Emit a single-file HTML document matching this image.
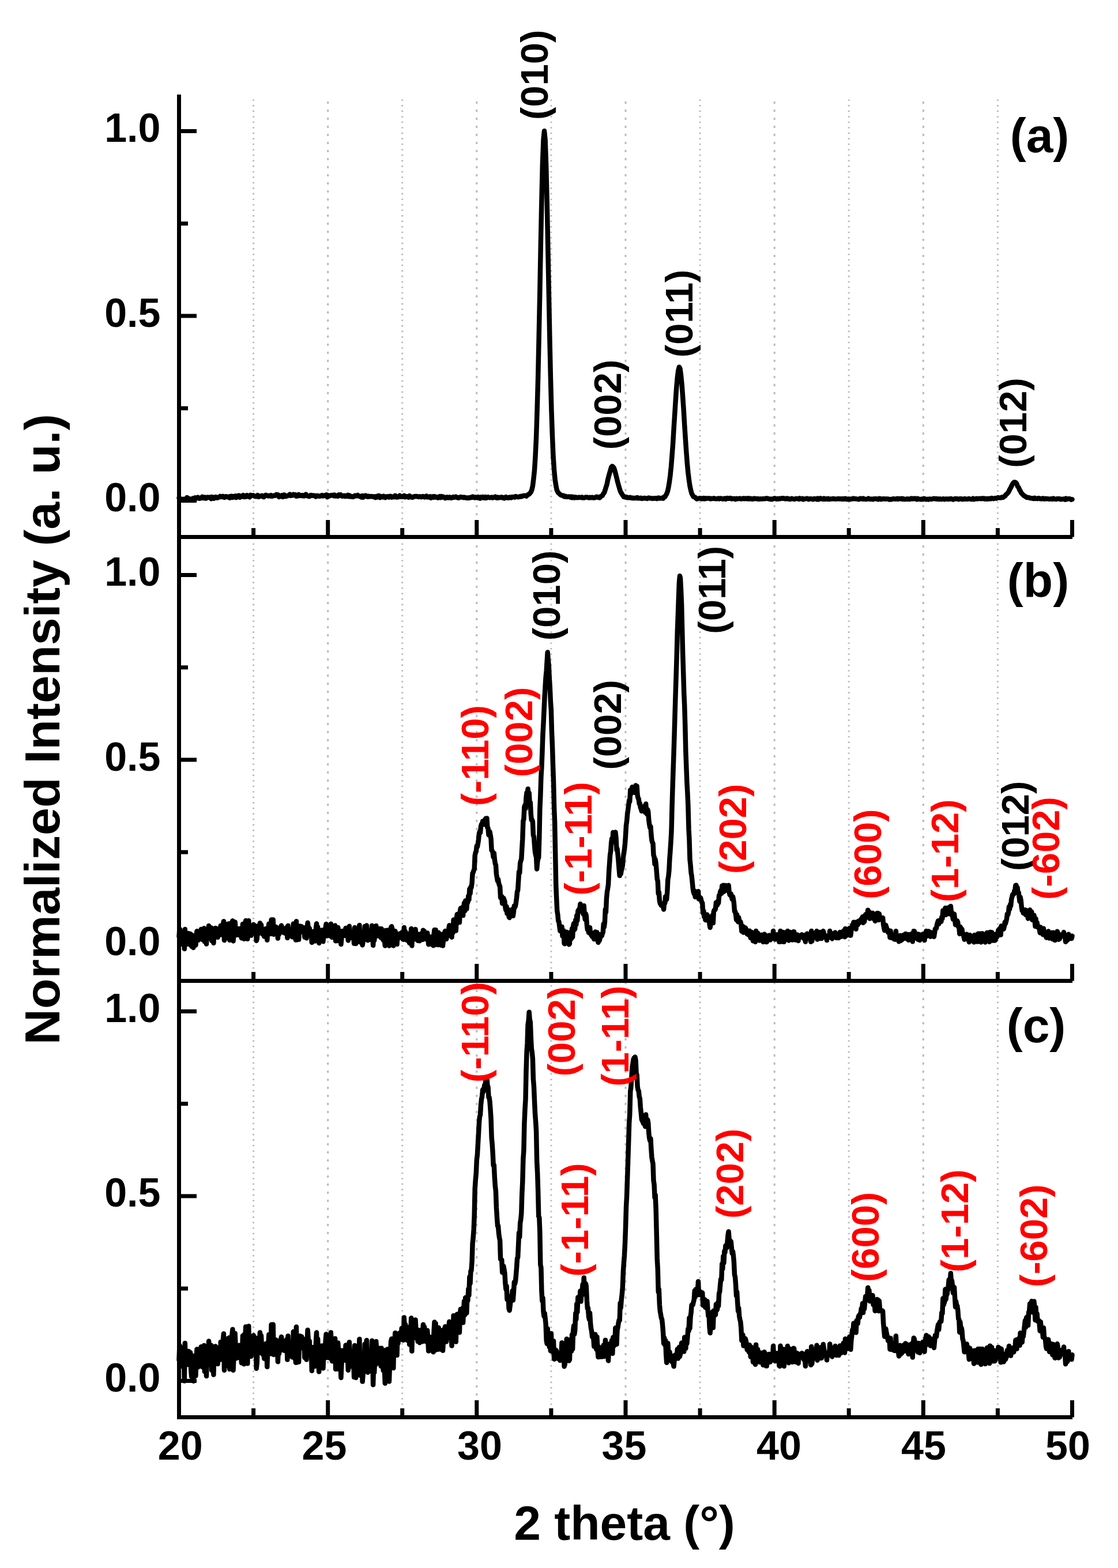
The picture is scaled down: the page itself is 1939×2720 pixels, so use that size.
<!DOCTYPE html><html><head><meta charset="utf-8"><style>html,body{margin:0;padding:0;background:#fff;}svg{display:block;}text{font-family:"Liberation Sans",Arial,sans-serif;font-weight:bold;}</style></head><body>
<svg width="1939" height="2720" viewBox="0 0 1939 2720">
<rect width="1939" height="2720" fill="#fff"/>
<g fill="none" stroke="#bbb" stroke-width="3">
<line x1="439.6" y1="172.5" x2="439.6" y2="928.0" stroke-dasharray="2.6 6.95"/>
<line x1="568.7" y1="176.0" x2="568.7" y2="928.0" stroke-dasharray="4 10"/>
<line x1="697.7" y1="172.5" x2="697.7" y2="928.0" stroke-dasharray="2.6 6.95"/>
<line x1="826.8" y1="176.0" x2="826.8" y2="928.0" stroke-dasharray="4 10"/>
<line x1="955.9" y1="172.5" x2="955.9" y2="928.0" stroke-dasharray="2.6 6.95"/>
<line x1="1085.0" y1="176.0" x2="1085.0" y2="928.0" stroke-dasharray="4 10"/>
<line x1="1214.1" y1="172.5" x2="1214.1" y2="928.0" stroke-dasharray="2.6 6.95"/>
<line x1="1343.2" y1="176.0" x2="1343.2" y2="928.0" stroke-dasharray="4 10"/>
<line x1="1472.2" y1="172.5" x2="1472.2" y2="928.0" stroke-dasharray="2.6 6.95"/>
<line x1="1601.3" y1="176.0" x2="1601.3" y2="928.0" stroke-dasharray="4 10"/>
<line x1="1730.4" y1="172.5" x2="1730.4" y2="928.0" stroke-dasharray="2.6 6.95"/>
<line x1="439.6" y1="942.5" x2="439.6" y2="1698.0" stroke-dasharray="2.6 6.95"/>
<line x1="568.7" y1="946.0" x2="568.7" y2="1698.0" stroke-dasharray="4 10"/>
<line x1="697.7" y1="942.5" x2="697.7" y2="1698.0" stroke-dasharray="2.6 6.95"/>
<line x1="826.8" y1="946.0" x2="826.8" y2="1698.0" stroke-dasharray="4 10"/>
<line x1="955.9" y1="942.5" x2="955.9" y2="1698.0" stroke-dasharray="2.6 6.95"/>
<line x1="1085.0" y1="946.0" x2="1085.0" y2="1698.0" stroke-dasharray="4 10"/>
<line x1="1214.1" y1="942.5" x2="1214.1" y2="1698.0" stroke-dasharray="2.6 6.95"/>
<line x1="1343.2" y1="946.0" x2="1343.2" y2="1698.0" stroke-dasharray="4 10"/>
<line x1="1472.2" y1="942.5" x2="1472.2" y2="1698.0" stroke-dasharray="2.6 6.95"/>
<line x1="1601.3" y1="946.0" x2="1601.3" y2="1698.0" stroke-dasharray="4 10"/>
<line x1="1730.4" y1="942.5" x2="1730.4" y2="1698.0" stroke-dasharray="2.6 6.95"/>
<line x1="439.6" y1="1699.4" x2="439.6" y2="2455.0" stroke-dasharray="2.6 6.95"/>
<line x1="568.7" y1="1702.9" x2="568.7" y2="2455.0" stroke-dasharray="4 10"/>
<line x1="697.7" y1="1699.4" x2="697.7" y2="2455.0" stroke-dasharray="2.6 6.95"/>
<line x1="826.8" y1="1702.9" x2="826.8" y2="2455.0" stroke-dasharray="4 10"/>
<line x1="955.9" y1="1699.4" x2="955.9" y2="2455.0" stroke-dasharray="2.6 6.95"/>
<line x1="1085.0" y1="1702.9" x2="1085.0" y2="2455.0" stroke-dasharray="4 10"/>
<line x1="1214.1" y1="1699.4" x2="1214.1" y2="2455.0" stroke-dasharray="2.6 6.95"/>
<line x1="1343.2" y1="1702.9" x2="1343.2" y2="2455.0" stroke-dasharray="4 10"/>
<line x1="1472.2" y1="1699.4" x2="1472.2" y2="2455.0" stroke-dasharray="2.6 6.95"/>
<line x1="1601.3" y1="1702.9" x2="1601.3" y2="2455.0" stroke-dasharray="4 10"/>
<line x1="1730.4" y1="1699.4" x2="1730.4" y2="2455.0" stroke-dasharray="2.6 6.95"/>
</g>
<g fill="none" stroke="#000" stroke-width="8.5" stroke-linejoin="round" stroke-linecap="round">
<path d="M310.5,863.7 L312.0,868.0 L313.6,865.3 L315.1,866.3 L316.7,866.1 L318.2,865.8 L319.8,867.6 L321.3,865.6 L322.9,866.2 L324.4,863.1 L326.0,864.9 L327.5,865.5 L329.1,865.3 L330.6,865.6 L332.2,866.0 L333.7,865.2 L335.3,864.2 L336.8,864.9 L338.4,863.5 L339.9,864.7 L341.5,864.4 L343.0,862.6 L344.6,863.6 L346.1,864.7 L347.7,864.3 L349.2,863.4 L350.8,861.8 L352.3,864.1 L353.9,864.0 L355.4,862.6 L357.0,864.6 L358.5,863.9 L360.1,862.5 L361.6,862.8 L363.2,863.2 L364.7,862.5 L366.3,865.3 L367.8,862.0 L369.4,864.0 L370.9,864.7 L372.5,862.5 L374.0,862.0 L375.6,863.2 L377.1,863.8 L378.7,862.5 L380.2,862.5 L381.8,860.9 L383.3,861.5 L384.9,862.0 L386.4,860.9 L387.9,862.3 L389.5,863.0 L391.0,861.3 L392.6,861.2 L394.1,862.0 L395.7,862.5 L397.2,861.4 L398.8,863.7 L400.3,860.7 L401.9,860.8 L403.4,863.1 L405.0,861.2 L406.5,862.2 L408.1,860.3 L409.6,863.2 L411.2,861.9 L412.7,860.1 L414.3,859.5 L415.8,862.9 L417.4,861.3 L418.9,860.4 L420.5,861.4 L422.0,859.0 L423.6,862.0 L425.1,860.3 L426.7,861.8 L428.2,859.1 L429.8,860.6 L431.3,861.0 L432.9,862.4 L434.4,858.7 L436.0,859.7 L437.5,859.7 L439.1,859.2 L440.6,860.1 L442.2,861.1 L443.7,861.3 L445.3,861.3 L446.8,858.9 L448.4,861.9 L449.9,861.0 L451.5,860.7 L453.0,860.1 L454.6,859.7 L456.1,861.6 L457.7,862.1 L459.2,860.2 L460.8,858.9 L462.3,859.4 L463.9,859.9 L465.4,860.5 L466.9,859.8 L468.5,860.4 L470.0,859.2 L471.6,860.9 L473.1,859.9 L474.7,860.1 L476.2,859.4 L477.8,859.7 L479.3,857.8 L480.9,858.3 L482.4,858.3 L484.0,862.1 L485.5,860.3 L487.1,860.5 L488.6,859.3 L490.2,862.0 L491.7,858.6 L493.3,858.6 L494.8,861.2 L496.4,860.8 L497.9,860.6 L499.5,859.7 L501.0,859.0 L502.6,857.5 L504.1,859.9 L505.7,858.8 L507.2,859.5 L508.8,857.7 L510.3,858.8 L511.9,858.1 L513.4,860.7 L515.0,859.7 L516.5,860.4 L518.1,857.9 L519.6,858.8 L521.2,859.9 L522.7,860.1 L524.3,859.1 L525.8,860.4 L527.4,860.6 L528.9,859.1 L530.5,857.5 L532.0,859.9 L533.6,860.3 L535.1,861.0 L536.7,861.2 L538.2,859.2 L539.8,858.9 L541.3,859.8 L542.8,859.5 L544.4,859.7 L545.9,859.7 L547.5,861.5 L549.0,860.4 L550.6,859.8 L552.1,860.8 L553.7,860.5 L555.2,860.8 L556.8,860.3 L558.3,859.1 L559.9,860.5 L561.4,860.2 L563.0,859.2 L564.5,859.4 L566.1,858.3 L567.6,862.3 L569.2,859.2 L570.7,860.7 L572.3,860.0 L573.8,859.3 L575.4,859.1 L576.9,859.1 L578.5,860.1 L580.0,858.5 L581.6,860.6 L583.1,860.5 L584.7,859.5 L586.2,860.9 L587.8,858.2 L589.3,859.3 L590.9,858.3 L592.4,860.4 L594.0,860.8 L595.5,860.3 L597.1,859.7 L598.6,861.1 L600.2,860.1 L601.7,860.6 L603.3,858.8 L604.8,861.3 L606.4,859.5 L607.9,861.3 L609.5,861.7 L611.0,861.4 L612.6,861.9 L614.1,860.5 L615.7,859.6 L617.2,860.5 L618.7,860.1 L620.3,859.0 L621.8,860.5 L623.4,860.6 L624.9,861.1 L626.5,862.6 L628.0,860.0 L629.6,862.8 L631.1,860.2 L632.7,860.9 L634.2,859.7 L635.8,861.0 L637.3,861.8 L638.9,860.6 L640.4,861.6 L642.0,861.2 L643.5,861.0 L645.1,861.2 L646.6,861.3 L648.2,862.0 L649.7,861.3 L651.3,863.3 L652.8,861.3 L654.4,862.5 L655.9,860.0 L657.5,859.9 L659.0,863.3 L660.6,861.1 L662.1,861.4 L663.7,862.4 L665.2,860.7 L666.8,861.8 L668.3,863.2 L669.9,861.6 L671.4,861.5 L673.0,861.3 L674.5,862.7 L676.1,860.8 L677.6,860.7 L679.2,862.7 L680.7,862.2 L682.3,861.6 L683.8,862.1 L685.4,859.7 L686.9,861.3 L688.5,862.6 L690.0,862.4 L691.6,861.7 L693.1,859.6 L694.6,861.8 L696.2,861.5 L697.7,861.2 L699.3,861.7 L700.8,859.8 L702.4,862.3 L703.9,861.0 L705.5,861.6 L707.0,861.2 L708.6,862.9 L710.1,860.1 L711.7,862.0 L713.2,861.8 L714.8,862.8 L716.3,862.6 L717.9,861.4 L719.4,861.0 L721.0,861.3 L722.5,860.9 L724.1,861.3 L725.6,862.0 L727.2,861.3 L728.7,861.5 L730.3,862.2 L731.8,861.4 L733.4,861.0 L734.9,861.9 L736.5,862.4 L738.0,861.5 L739.6,860.5 L741.1,862.4 L742.7,862.3 L744.2,862.3 L745.8,861.2 L747.3,863.8 L748.9,862.0 L750.4,861.3 L752.0,863.0 L753.5,861.1 L755.1,861.9 L756.6,862.8 L758.2,862.2 L759.7,863.6 L761.3,862.9 L762.8,861.0 L764.4,863.2 L765.9,861.0 L767.5,862.5 L769.0,861.7 L770.6,862.5 L772.1,864.1 L773.6,863.0 L775.2,862.4 L776.7,863.5 L778.3,863.6 L779.8,862.3 L781.4,863.1 L782.9,863.9 L784.5,863.2 L786.0,862.0 L787.6,863.0 L789.1,862.0 L790.7,861.6 L792.2,862.7 L793.8,863.6 L795.3,863.7 L796.9,862.8 L798.4,862.1 L800.0,862.6 L801.5,862.4 L803.1,863.2 L804.6,862.6 L806.2,863.2 L807.7,863.1 L809.3,863.8 L810.8,864.1 L812.4,863.3 L813.9,863.7 L815.5,863.6 L817.0,862.5 L818.6,863.0 L820.1,861.5 L821.7,862.3 L823.2,863.5 L824.8,862.4 L826.3,862.8 L827.9,863.5 L829.4,862.2 L831.0,863.6 L832.5,864.5 L834.1,862.5 L835.6,863.5 L837.2,862.0 L838.7,863.6 L840.3,863.9 L841.8,862.0 L843.4,863.9 L844.9,863.0 L846.5,862.1 L848.0,863.0 L849.5,863.2 L851.1,863.1 L852.6,862.5 L854.2,863.7 L855.7,862.7 L857.3,862.7 L858.8,861.7 L860.4,863.4 L861.9,863.8 L863.5,862.6 L865.0,863.4 L866.6,862.9 L868.1,863.0 L869.7,862.2 L871.2,863.5 L872.8,863.1 L874.3,864.4 L875.9,863.6 L877.4,861.9 L879.0,863.4 L880.5,863.4 L882.1,863.7 L883.6,862.4 L885.2,862.6 L886.7,863.5 L888.3,862.1 L889.8,862.3 L891.4,861.9 L892.9,862.7 L894.5,861.0 L896.0,861.8 L897.6,862.0 L899.1,862.2 L900.7,861.8 L902.2,860.9 L903.8,861.5 L905.3,860.4 L906.9,860.5 L908.4,859.7 L910.0,859.8 L911.5,860.0 L913.1,860.8 L914.6,858.8 L916.2,857.8 L917.7,857.2 L919.3,855.4 L920.8,853.6 L922.4,849.4 L923.9,843.1 L925.4,831.0 L927.0,815.5 L928.5,791.7 L930.1,758.0 L931.6,711.6 L933.2,652.7 L934.7,583.7 L936.3,506.4 L937.8,424.9 L939.4,348.5 L940.9,284.9 L942.5,242.4 L944.0,227.3 L945.6,242.4 L947.1,284.9 L948.7,349.1 L950.2,424.9 L951.8,506.1 L953.3,583.1 L954.9,654.4 L956.4,711.1 L958.0,756.7 L959.5,791.6 L961.1,815.4 L962.6,831.5 L964.2,842.2 L965.7,849.6 L967.3,853.4 L968.8,855.2 L970.4,856.6 L971.9,858.3 L973.5,859.1 L975.0,859.5 L976.6,859.4 L978.1,861.1 L979.7,861.6 L981.2,860.9 L982.8,861.9 L984.3,861.8 L985.9,861.6 L987.4,861.5 L989.0,862.7 L990.5,861.6 L992.1,863.4 L993.6,862.0 L995.2,863.4 L996.7,863.4 L998.3,862.3 L999.8,863.0 L1001.3,863.3 L1002.9,863.1 L1004.4,862.6 L1006.0,863.0 L1007.5,863.0 L1009.1,862.4 L1010.6,863.6 L1012.2,863.4 L1013.7,863.5 L1015.3,862.5 L1016.8,862.6 L1018.4,862.5 L1019.9,863.3 L1021.5,863.4 L1023.0,862.7 L1024.6,863.5 L1026.1,862.8 L1027.7,862.8 L1029.2,863.7 L1030.8,863.2 L1032.3,863.2 L1033.9,862.0 L1035.4,861.8 L1037.0,862.9 L1038.5,862.6 L1040.1,863.4 L1041.6,861.4 L1043.2,860.6 L1044.7,859.8 L1046.3,856.6 L1047.8,855.1 L1049.4,850.5 L1050.9,845.5 L1052.5,840.7 L1054.0,833.1 L1055.6,826.4 L1057.1,821.3 L1058.7,815.7 L1060.2,810.4 L1061.8,808.8 L1063.3,809.9 L1064.9,812.1 L1066.4,816.7 L1068.0,822.8 L1069.5,828.8 L1071.1,835.7 L1072.6,841.1 L1074.2,846.7 L1075.7,851.6 L1077.3,854.8 L1078.8,857.3 L1080.3,859.6 L1081.9,862.0 L1083.4,861.6 L1085.0,862.7 L1086.5,862.1 L1088.1,863.3 L1089.6,863.2 L1091.2,863.4 L1092.7,862.7 L1094.3,863.7 L1095.8,864.0 L1097.4,863.7 L1098.9,864.2 L1100.5,863.9 L1102.0,864.0 L1103.6,863.9 L1105.1,863.0 L1106.7,864.4 L1108.2,864.1 L1109.8,864.3 L1111.3,863.8 L1112.9,864.9 L1114.4,864.7 L1116.0,864.3 L1117.5,864.0 L1119.1,864.3 L1120.6,864.6 L1122.2,864.9 L1123.7,864.1 L1125.3,863.6 L1126.8,864.2 L1128.4,864.3 L1129.9,864.2 L1131.5,865.0 L1133.0,864.6 L1134.6,864.6 L1136.1,864.3 L1137.7,864.5 L1139.2,865.2 L1140.8,863.9 L1142.3,863.5 L1143.9,864.6 L1145.4,864.2 L1147.0,864.2 L1148.5,863.6 L1150.1,864.5 L1151.6,862.1 L1153.2,862.1 L1154.7,859.2 L1156.2,856.8 L1157.8,852.5 L1159.3,845.9 L1160.9,836.3 L1162.4,825.2 L1164.0,809.6 L1165.5,790.9 L1167.1,769.7 L1168.6,744.1 L1170.2,719.3 L1171.7,694.9 L1173.3,672.1 L1174.8,655.0 L1176.4,642.5 L1177.9,636.7 L1179.5,639.5 L1181.0,650.7 L1182.6,666.9 L1184.1,687.6 L1185.7,710.8 L1187.2,736.7 L1188.8,761.2 L1190.3,783.5 L1191.9,804.1 L1193.4,820.0 L1195.0,832.8 L1196.5,843.0 L1198.1,850.4 L1199.6,856.0 L1201.2,858.9 L1202.7,861.7 L1204.3,862.2 L1205.8,862.7 L1207.4,864.6 L1208.9,865.6 L1210.5,864.9 L1212.0,864.6 L1213.6,864.2 L1215.1,864.3 L1216.7,865.3 L1218.2,865.3 L1219.8,864.2 L1221.3,865.4 L1222.9,864.3 L1224.4,865.0 L1226.0,864.5 L1227.5,864.5 L1229.1,864.5 L1230.6,864.5 L1232.1,865.4 L1233.7,864.8 L1235.2,864.9 L1236.8,864.8 L1238.3,864.3 L1239.9,865.1 L1241.4,865.3 L1243.0,865.3 L1244.5,865.1 L1246.1,864.6 L1247.6,865.4 L1249.2,864.4 L1250.7,864.8 L1252.3,865.1 L1253.8,865.7 L1255.4,864.9 L1256.9,864.6 L1258.5,865.9 L1260.0,864.4 L1261.6,864.1 L1263.1,864.8 L1264.7,864.8 L1266.2,864.0 L1267.8,864.4 L1269.3,865.5 L1270.9,865.0 L1272.4,865.1 L1274.0,865.1 L1275.5,866.1 L1277.1,864.7 L1278.6,865.4 L1280.2,865.0 L1281.7,865.1 L1283.3,864.6 L1284.8,865.2 L1286.4,865.5 L1287.9,864.8 L1289.5,864.4 L1291.0,865.3 L1292.6,864.4 L1294.1,865.0 L1295.7,865.4 L1297.2,864.3 L1298.8,865.5 L1300.3,864.6 L1301.9,865.4 L1303.4,864.9 L1305.0,865.8 L1306.5,865.6 L1308.0,864.6 L1309.6,865.1 L1311.1,865.1 L1312.7,865.4 L1314.2,864.9 L1315.8,865.9 L1317.3,865.7 L1318.9,865.3 L1320.4,865.6 L1322.0,865.5 L1323.5,865.2 L1325.1,865.3 L1326.6,865.3 L1328.2,864.4 L1329.7,864.7 L1331.3,864.6 L1332.8,865.2 L1334.4,865.5 L1335.9,866.0 L1337.5,865.4 L1339.0,866.2 L1340.6,865.5 L1342.1,864.9 L1343.7,864.4 L1345.2,864.8 L1346.8,865.7 L1348.3,865.0 L1349.9,865.7 L1351.4,864.8 L1353.0,865.3 L1354.5,864.8 L1356.1,864.3 L1357.6,864.8 L1359.2,864.3 L1360.7,865.2 L1362.3,865.4 L1363.8,864.6 L1365.4,864.4 L1366.9,865.6 L1368.5,865.2 L1370.0,866.0 L1371.6,865.4 L1373.1,864.8 L1374.7,865.3 L1376.2,865.6 L1377.8,866.0 L1379.3,865.1 L1380.9,864.9 L1382.4,865.0 L1384.0,865.2 L1385.5,865.9 L1387.0,864.4 L1388.6,865.3 L1390.1,865.4 L1391.7,864.9 L1393.2,866.3 L1394.8,865.4 L1396.3,865.4 L1397.9,865.1 L1399.4,864.7 L1401.0,865.1 L1402.5,866.2 L1404.1,865.5 L1405.6,865.2 L1407.2,865.3 L1408.7,866.0 L1410.3,866.2 L1411.8,865.1 L1413.4,865.2 L1414.9,865.4 L1416.5,866.2 L1418.0,864.5 L1419.6,866.3 L1421.1,865.5 L1422.7,864.4 L1424.2,865.4 L1425.8,865.2 L1427.3,865.9 L1428.9,864.7 L1430.4,866.0 L1432.0,865.2 L1433.5,865.3 L1435.1,865.9 L1436.6,864.9 L1438.2,866.1 L1439.7,865.7 L1441.3,865.4 L1442.8,865.6 L1444.4,865.2 L1445.9,864.9 L1447.5,865.5 L1449.0,865.7 L1450.6,865.6 L1452.1,865.6 L1453.7,865.0 L1455.2,865.5 L1456.8,865.2 L1458.3,865.4 L1459.9,865.8 L1461.4,865.0 L1462.9,865.9 L1464.5,865.4 L1466.0,864.7 L1467.6,865.9 L1469.1,865.4 L1470.7,866.2 L1472.2,865.7 L1473.8,866.2 L1475.3,865.6 L1476.9,865.7 L1478.4,865.4 L1480.0,864.6 L1481.5,865.3 L1483.1,865.1 L1484.6,865.5 L1486.2,865.6 L1487.7,865.8 L1489.3,866.3 L1490.8,865.4 L1492.4,864.6 L1493.9,865.2 L1495.5,865.7 L1497.0,864.6 L1498.6,865.7 L1500.1,865.8 L1501.7,866.0 L1503.2,865.9 L1504.8,865.6 L1506.3,864.5 L1507.9,865.6 L1509.4,866.0 L1511.0,865.8 L1512.5,865.6 L1514.1,866.3 L1515.6,865.4 L1517.2,865.1 L1518.7,865.3 L1520.3,865.2 L1521.8,866.1 L1523.4,866.3 L1524.9,864.8 L1526.5,864.9 L1528.0,866.2 L1529.6,865.4 L1531.1,865.5 L1532.7,865.2 L1534.2,865.4 L1535.8,865.7 L1537.3,865.4 L1538.8,865.4 L1540.4,865.5 L1541.9,866.4 L1543.5,866.5 L1545.0,865.9 L1546.6,866.3 L1548.1,865.4 L1549.7,865.2 L1551.2,865.4 L1552.8,865.7 L1554.3,865.5 L1555.9,864.9 L1557.4,865.9 L1559.0,865.1 L1560.5,865.2 L1562.1,865.4 L1563.6,864.8 L1565.2,865.9 L1566.7,865.1 L1568.3,866.0 L1569.8,865.9 L1571.4,866.0 L1572.9,865.3 L1574.5,866.0 L1576.0,865.5 L1577.6,866.1 L1579.1,865.0 L1580.7,864.6 L1582.2,865.4 L1583.8,864.7 L1585.3,865.3 L1586.9,864.6 L1588.4,865.5 L1590.0,866.3 L1591.5,864.8 L1593.1,865.6 L1594.6,866.0 L1596.2,865.9 L1597.7,866.3 L1599.3,865.6 L1600.8,866.1 L1602.4,864.8 L1603.9,865.2 L1605.5,866.3 L1607.0,866.3 L1608.6,865.8 L1610.1,866.5 L1611.7,865.6 L1613.2,865.6 L1614.7,865.9 L1616.3,865.8 L1617.8,865.3 L1619.4,864.9 L1620.9,864.8 L1622.5,865.5 L1624.0,865.1 L1625.6,865.9 L1627.1,865.3 L1628.7,866.0 L1630.2,865.2 L1631.8,866.1 L1633.3,866.0 L1634.9,865.5 L1636.4,865.3 L1638.0,866.2 L1639.5,865.8 L1641.1,865.5 L1642.6,865.4 L1644.2,865.9 L1645.7,865.5 L1647.3,865.7 L1648.8,864.9 L1650.4,865.3 L1651.9,866.2 L1653.5,866.5 L1655.0,865.5 L1656.6,865.0 L1658.1,865.4 L1659.7,865.1 L1661.2,865.7 L1662.8,866.2 L1664.3,865.2 L1665.9,865.5 L1667.4,865.2 L1669.0,866.2 L1670.5,865.4 L1672.1,865.8 L1673.6,865.1 L1675.2,865.8 L1676.7,865.8 L1678.3,865.7 L1679.8,864.9 L1681.4,865.4 L1682.9,865.8 L1684.5,865.9 L1686.0,865.9 L1687.6,864.7 L1689.1,866.3 L1690.7,865.8 L1692.2,865.1 L1693.7,864.8 L1695.3,865.4 L1696.8,865.0 L1698.4,865.0 L1699.9,864.8 L1701.5,865.3 L1703.0,864.5 L1704.6,865.1 L1706.1,864.5 L1707.7,865.7 L1709.2,864.7 L1710.8,865.7 L1712.3,865.8 L1713.9,864.8 L1715.4,865.4 L1717.0,864.7 L1718.5,865.4 L1720.1,864.0 L1721.6,864.7 L1723.2,865.2 L1724.7,864.5 L1726.3,864.0 L1727.8,864.7 L1729.4,863.9 L1730.9,863.1 L1732.5,863.4 L1734.0,863.6 L1735.6,863.5 L1737.1,862.6 L1738.7,863.1 L1740.2,862.7 L1741.8,861.2 L1743.3,860.3 L1744.9,857.7 L1746.4,856.7 L1748.0,855.1 L1749.5,852.8 L1751.1,849.2 L1752.6,846.7 L1754.2,843.5 L1755.7,840.3 L1757.3,837.9 L1758.8,836.5 L1760.4,836.5 L1761.9,837.3 L1763.5,839.5 L1765.0,844.0 L1766.6,845.5 L1768.1,849.4 L1769.6,851.7 L1771.2,855.0 L1772.7,856.6 L1774.3,858.4 L1775.8,859.8 L1777.4,860.6 L1778.9,861.5 L1780.5,862.9 L1782.0,863.0 L1783.6,863.0 L1785.1,863.3 L1786.7,864.0 L1788.2,864.2 L1789.8,864.3 L1791.3,864.9 L1792.9,865.1 L1794.4,863.9 L1796.0,864.9 L1797.5,864.7 L1799.1,865.2 L1800.6,864.3 L1802.2,864.2 L1803.7,865.2 L1805.3,864.9 L1806.8,865.5 L1808.4,864.4 L1809.9,864.8 L1811.5,865.7 L1813.0,864.7 L1814.6,865.2 L1816.1,865.2 L1817.7,865.2 L1819.2,865.7 L1820.8,865.7 L1822.3,865.2 L1823.9,865.5 L1825.4,865.9 L1827.0,864.6 L1828.5,865.6 L1830.1,865.8 L1831.6,865.9 L1833.2,865.3 L1834.7,865.1 L1836.3,865.5 L1837.8,865.2 L1839.4,866.3 L1840.9,865.8 L1842.5,865.9 L1844.0,865.7 L1845.5,865.4 L1847.1,866.6 L1848.6,864.8 L1850.2,866.1 L1851.7,865.5 L1853.3,865.3 L1854.8,865.3 L1856.4,865.6 L1857.9,866.7 L1859.5,866.2"/>
<path d="M310.5,1624.5 L311.5,1611.5 L312.6,1613.3 L313.6,1631.2 L314.6,1629.5 L315.7,1632.2 L316.7,1621.5 L317.7,1628.1 L318.8,1620.2 L319.8,1646.0 L320.8,1612.0 L321.9,1628.7 L322.9,1620.8 L323.9,1629.0 L325.0,1631.4 L326.0,1622.8 L327.0,1619.0 L328.1,1629.2 L329.1,1628.6 L330.1,1619.9 L331.2,1635.4 L332.2,1641.7 L333.2,1622.3 L334.3,1632.8 L335.3,1643.9 L336.3,1633.7 L337.3,1630.0 L338.4,1637.0 L339.4,1639.8 L340.4,1624.2 L341.5,1615.3 L342.5,1626.3 L343.5,1631.2 L344.6,1619.6 L345.6,1616.0 L346.6,1625.9 L347.7,1617.2 L348.7,1612.0 L349.7,1624.2 L350.8,1630.0 L351.8,1618.2 L352.8,1618.9 L353.9,1610.2 L354.9,1633.7 L355.9,1627.3 L357.0,1628.9 L358.0,1637.6 L359.0,1618.9 L360.1,1614.7 L361.1,1627.2 L362.1,1605.9 L363.2,1611.3 L364.2,1613.1 L365.2,1615.2 L366.3,1609.5 L367.3,1632.1 L368.3,1612.6 L369.4,1612.5 L370.4,1635.9 L371.4,1614.7 L372.5,1620.5 L373.5,1610.1 L374.5,1622.0 L375.6,1617.7 L376.6,1614.0 L377.6,1625.9 L378.7,1611.1 L379.7,1617.9 L380.7,1611.9 L381.8,1621.8 L382.8,1605.8 L383.8,1610.4 L384.9,1618.0 L385.9,1609.8 L386.9,1603.5 L387.9,1598.2 L389.0,1631.2 L390.0,1606.9 L391.0,1610.9 L392.1,1616.4 L393.1,1625.3 L394.1,1602.9 L395.2,1627.6 L396.2,1609.6 L397.2,1602.3 L398.3,1630.8 L399.3,1618.0 L400.3,1627.8 L401.4,1612.6 L402.4,1600.1 L403.4,1597.3 L404.5,1632.4 L405.5,1620.5 L406.5,1608.0 L407.6,1599.4 L408.6,1610.7 L409.6,1622.1 L410.7,1611.9 L411.7,1615.0 L412.7,1616.8 L413.8,1622.0 L414.8,1611.0 L415.8,1611.8 L416.9,1615.7 L417.9,1616.9 L418.9,1627.3 L420.0,1619.5 L421.0,1602.9 L422.0,1616.6 L423.1,1628.8 L424.1,1601.7 L425.1,1609.5 L426.2,1597.1 L427.2,1614.1 L428.2,1619.2 L429.3,1628.8 L430.3,1601.7 L431.3,1597.1 L432.4,1622.6 L433.4,1620.9 L434.4,1608.8 L435.5,1622.7 L436.5,1617.2 L437.5,1618.0 L438.5,1612.7 L439.6,1603.8 L440.6,1614.3 L441.6,1605.5 L442.7,1618.5 L443.7,1611.2 L444.7,1631.9 L445.8,1628.4 L446.8,1606.5 L447.8,1619.9 L448.9,1608.5 L449.9,1608.8 L450.9,1601.2 L452.0,1606.1 L453.0,1604.0 L454.0,1614.9 L455.1,1620.5 L456.1,1620.8 L457.1,1618.4 L458.2,1624.5 L459.2,1618.8 L460.2,1614.3 L461.3,1610.9 L462.3,1616.6 L463.3,1630.7 L464.4,1613.9 L465.4,1611.0 L466.4,1602.6 L467.5,1607.5 L468.5,1619.3 L469.5,1620.0 L470.6,1595.6 L471.6,1605.7 L472.6,1595.6 L473.7,1595.6 L474.7,1620.9 L475.7,1609.3 L476.8,1608.6 L477.8,1607.6 L478.8,1607.8 L479.9,1611.2 L480.9,1611.5 L481.9,1627.7 L483.0,1614.8 L484.0,1620.5 L485.0,1612.1 L486.1,1617.9 L487.1,1607.5 L488.1,1605.6 L489.2,1610.6 L490.2,1610.6 L491.2,1612.8 L492.2,1618.1 L493.3,1615.4 L494.3,1618.7 L495.3,1610.3 L496.4,1613.9 L497.4,1608.6 L498.4,1627.1 L499.5,1605.8 L500.5,1621.8 L501.5,1621.6 L502.6,1616.5 L503.6,1620.1 L504.6,1612.0 L505.7,1620.4 L506.7,1625.3 L507.7,1623.2 L508.8,1602.5 L509.8,1614.8 L510.8,1626.5 L511.9,1615.3 L512.9,1630.5 L513.9,1598.3 L515.0,1630.3 L516.0,1611.1 L517.0,1610.5 L518.1,1629.8 L519.1,1613.0 L520.1,1606.4 L521.2,1611.6 L522.2,1613.6 L523.2,1607.1 L524.3,1614.8 L525.3,1613.1 L526.3,1617.7 L527.4,1610.5 L528.4,1625.7 L529.4,1609.1 L530.5,1621.6 L531.5,1627.4 L532.5,1613.4 L533.6,1600.8 L534.6,1607.9 L535.6,1622.2 L536.7,1610.6 L537.7,1621.7 L538.7,1618.7 L539.8,1616.7 L540.8,1634.9 L541.8,1615.9 L542.8,1627.7 L543.9,1624.6 L544.9,1632.1 L545.9,1632.6 L547.0,1627.2 L548.0,1610.3 L549.0,1602.3 L550.1,1618.6 L551.1,1608.0 L552.1,1621.1 L553.2,1635.9 L554.2,1617.3 L555.2,1614.5 L556.3,1623.0 L557.3,1616.0 L558.3,1613.5 L559.4,1627.4 L560.4,1633.3 L561.4,1621.3 L562.5,1621.3 L563.5,1622.7 L564.5,1609.9 L565.6,1602.9 L566.6,1623.5 L567.6,1612.9 L568.7,1610.6 L569.7,1612.9 L570.7,1609.7 L571.8,1623.6 L572.8,1612.8 L573.8,1602.7 L574.9,1612.3 L575.9,1626.0 L576.9,1614.3 L578.0,1608.1 L579.0,1616.7 L580.0,1625.7 L581.1,1605.5 L582.1,1632.3 L583.1,1615.6 L584.2,1620.6 L585.2,1631.9 L586.2,1608.9 L587.3,1617.3 L588.3,1631.8 L589.3,1615.0 L590.4,1624.9 L591.4,1638.0 L592.4,1627.4 L593.4,1618.4 L594.5,1614.9 L595.5,1619.4 L596.5,1620.6 L597.6,1616.6 L598.6,1623.1 L599.6,1609.9 L600.7,1619.8 L601.7,1618.5 L602.7,1616.1 L603.8,1631.4 L604.8,1628.2 L605.8,1606.8 L606.9,1618.3 L607.9,1624.2 L608.9,1618.3 L610.0,1626.2 L611.0,1619.0 L612.0,1628.0 L613.1,1619.1 L614.1,1636.8 L615.1,1609.1 L616.2,1626.7 L617.2,1637.0 L618.2,1624.1 L619.3,1625.5 L620.3,1620.6 L621.3,1633.0 L622.4,1618.3 L623.4,1605.0 L624.4,1634.3 L625.5,1619.0 L626.5,1625.2 L627.5,1620.4 L628.6,1639.4 L629.6,1633.3 L630.6,1618.0 L631.7,1622.8 L632.7,1606.9 L633.7,1629.2 L634.8,1620.9 L635.8,1605.4 L636.8,1629.9 L637.9,1631.2 L638.9,1623.0 L639.9,1623.1 L641.0,1614.7 L642.0,1621.5 L643.0,1630.0 L644.0,1620.8 L645.1,1605.8 L646.1,1610.8 L647.1,1640.0 L648.2,1624.3 L649.2,1631.3 L650.2,1617.1 L651.3,1624.7 L652.3,1606.0 L653.3,1614.3 L654.4,1614.7 L655.4,1621.4 L656.4,1623.6 L657.5,1620.0 L658.5,1611.0 L659.5,1618.2 L660.6,1626.6 L661.6,1611.3 L662.6,1621.6 L663.7,1624.1 L664.7,1630.9 L665.7,1628.8 L666.8,1629.5 L667.8,1640.6 L668.8,1613.9 L669.9,1618.2 L670.9,1625.6 L671.9,1613.8 L673.0,1619.5 L674.0,1620.2 L675.0,1640.7 L676.1,1626.0 L677.1,1618.8 L678.1,1608.8 L679.2,1607.1 L680.2,1610.6 L681.2,1634.7 L682.3,1640.6 L683.3,1618.7 L684.3,1623.8 L685.4,1615.2 L686.4,1625.2 L687.4,1622.1 L688.5,1637.9 L689.5,1620.1 L690.5,1628.3 L691.6,1621.1 L692.6,1620.1 L693.6,1625.4 L694.6,1621.5 L695.7,1624.5 L696.7,1617.6 L697.7,1620.0 L698.8,1629.4 L699.8,1629.8 L700.8,1609.1 L701.9,1625.5 L702.9,1615.8 L703.9,1621.2 L705.0,1629.7 L706.0,1631.3 L707.0,1623.7 L708.1,1622.5 L709.1,1619.5 L710.1,1635.9 L711.2,1630.1 L712.2,1625.7 L713.2,1611.1 L714.3,1640.5 L715.3,1621.2 L716.3,1629.7 L717.4,1621.4 L718.4,1629.3 L719.4,1622.0 L720.5,1611.9 L721.5,1622.2 L722.5,1621.6 L723.6,1622.2 L724.6,1631.7 L725.6,1620.8 L726.7,1627.2 L727.7,1632.3 L728.7,1625.8 L729.8,1627.4 L730.8,1619.3 L731.8,1626.0 L732.9,1630.0 L733.9,1613.7 L734.9,1617.6 L736.0,1615.4 L737.0,1620.9 L738.0,1626.8 L739.1,1629.4 L740.1,1628.3 L741.1,1618.4 L742.2,1625.2 L743.2,1638.2 L744.2,1626.6 L745.2,1637.8 L746.3,1625.2 L747.3,1636.2 L748.3,1636.8 L749.4,1625.9 L750.4,1627.5 L751.4,1640.2 L752.5,1621.2 L753.5,1613.1 L754.5,1639.0 L755.6,1613.3 L756.6,1632.9 L757.6,1631.5 L758.7,1629.1 L759.7,1639.0 L760.7,1617.8 L761.8,1624.1 L762.8,1633.7 L763.8,1630.1 L764.9,1639.6 L765.9,1630.6 L766.9,1620.7 L768.0,1640.6 L769.0,1630.5 L770.0,1625.5 L771.1,1618.1 L772.1,1615.1 L773.1,1627.8 L774.2,1628.9 L775.2,1619.1 L776.2,1624.0 L777.3,1622.5 L778.3,1611.0 L779.3,1605.3 L780.4,1614.6 L781.4,1616.6 L782.4,1609.8 L783.5,1625.8 L784.5,1611.6 L785.5,1617.8 L786.6,1595.6 L787.6,1601.9 L788.6,1604.3 L789.7,1604.9 L790.7,1614.5 L791.7,1594.5 L792.8,1586.0 L793.8,1600.7 L794.8,1588.6 L795.9,1586.2 L796.9,1600.0 L797.9,1580.5 L798.9,1575.6 L800.0,1581.5 L801.0,1581.6 L802.0,1573.9 L803.1,1588.1 L804.1,1574.9 L805.1,1566.4 L806.2,1580.0 L807.2,1562.6 L808.2,1569.9 L809.3,1576.7 L810.3,1562.6 L811.3,1565.6 L812.4,1553.9 L813.4,1560.5 L814.4,1542.1 L815.5,1550.0 L816.5,1538.4 L817.5,1539.5 L818.6,1531.4 L819.6,1514.7 L820.6,1513.5 L821.7,1509.9 L822.7,1507.4 L823.7,1484.3 L824.8,1478.7 L825.8,1477.4 L826.8,1467.5 L827.9,1469.0 L828.9,1463.4 L829.9,1457.2 L831.0,1446.0 L832.0,1442.4 L833.0,1444.7 L834.1,1433.0 L835.1,1429.9 L836.1,1431.0 L837.2,1424.4 L838.2,1430.0 L839.2,1427.4 L840.3,1422.8 L841.3,1424.7 L842.3,1419.7 L843.4,1431.7 L844.4,1419.5 L845.4,1435.5 L846.5,1436.7 L847.5,1448.5 L848.5,1442.1 L849.5,1442.9 L850.6,1449.0 L851.6,1455.7 L852.6,1475.0 L853.7,1475.9 L854.7,1479.1 L855.7,1487.0 L856.8,1479.9 L857.8,1490.8 L858.8,1497.7 L859.9,1500.7 L860.9,1515.9 L861.9,1522.2 L863.0,1528.2 L864.0,1525.3 L865.0,1531.9 L866.1,1535.7 L867.1,1537.5 L868.1,1557.4 L869.2,1556.1 L870.2,1554.8 L871.2,1567.3 L872.3,1564.9 L873.3,1557.9 L874.3,1560.6 L875.4,1564.1 L876.4,1574.2 L877.4,1578.8 L878.5,1572.8 L879.5,1584.8 L880.5,1582.4 L881.6,1577.9 L882.6,1590.2 L883.6,1592.0 L884.7,1587.4 L885.7,1582.4 L886.7,1581.6 L887.8,1581.8 L888.8,1577.1 L889.8,1588.8 L890.9,1581.4 L891.9,1571.4 L892.9,1574.0 L894.0,1571.5 L895.0,1565.1 L896.0,1557.5 L897.1,1546.5 L898.1,1544.5 L899.1,1529.1 L900.1,1512.1 L901.2,1514.6 L902.2,1497.3 L903.2,1493.4 L904.3,1490.2 L905.3,1472.2 L906.3,1455.5 L907.4,1423.8 L908.4,1421.4 L909.4,1399.8 L910.5,1396.5 L911.5,1402.4 L912.5,1384.1 L913.6,1374.9 L914.6,1381.1 L915.6,1368.6 L916.7,1381.3 L917.7,1375.8 L918.7,1393.3 L919.8,1391.9 L920.8,1412.1 L921.8,1422.6 L922.9,1422.3 L923.9,1425.5 L924.9,1448.7 L926.0,1451.7 L927.0,1465.7 L928.0,1477.8 L929.1,1483.5 L930.1,1486.9 L931.1,1507.5 L932.2,1495.0 L933.2,1489.2 L934.2,1487.9 L935.3,1453.2 L936.3,1404.1 L937.3,1381.8 L938.4,1347.4 L939.4,1330.7 L940.4,1305.6 L941.5,1273.3 L942.5,1255.3 L943.5,1233.5 L944.6,1208.9 L945.6,1191.0 L946.6,1175.1 L947.7,1163.6 L948.7,1147.0 L949.7,1131.6 L950.7,1143.9 L951.8,1155.2 L952.8,1177.0 L953.8,1192.1 L954.9,1217.6 L955.9,1231.6 L956.9,1268.0 L958.0,1294.2 L959.0,1327.2 L960.0,1354.9 L961.1,1400.6 L962.1,1425.7 L963.1,1477.0 L964.2,1534.5 L965.2,1558.4 L966.2,1579.8 L967.3,1586.4 L968.3,1597.7 L969.3,1598.5 L970.4,1607.2 L971.4,1615.0 L972.4,1614.5 L973.5,1614.7 L974.5,1607.6 L975.5,1623.8 L976.6,1620.3 L977.6,1614.4 L978.6,1636.6 L979.7,1637.3 L980.7,1634.7 L981.7,1628.6 L982.8,1616.9 L983.8,1626.1 L984.8,1620.8 L985.9,1629.3 L986.9,1638.4 L987.9,1637.0 L989.0,1617.5 L990.0,1620.9 L991.0,1628.2 L992.1,1610.9 L993.1,1625.4 L994.1,1606.5 L995.2,1602.0 L996.2,1612.8 L997.2,1611.5 L998.3,1595.8 L999.3,1603.8 L1000.3,1588.0 L1001.3,1596.6 L1002.4,1580.0 L1003.4,1578.8 L1004.4,1576.8 L1005.5,1575.8 L1006.5,1568.1 L1007.5,1580.7 L1008.6,1573.1 L1009.6,1575.7 L1010.6,1571.7 L1011.7,1585.9 L1012.7,1571.2 L1013.7,1586.2 L1014.8,1595.0 L1015.8,1584.9 L1016.8,1588.7 L1017.9,1604.8 L1018.9,1612.8 L1019.9,1610.4 L1021.0,1617.8 L1022.0,1618.3 L1023.0,1609.2 L1024.1,1618.5 L1025.1,1621.7 L1026.1,1621.6 L1027.2,1624.9 L1028.2,1620.1 L1029.2,1620.6 L1030.3,1629.1 L1031.3,1626.7 L1032.3,1616.6 L1033.4,1625.6 L1034.4,1629.6 L1035.4,1617.4 L1036.5,1628.5 L1037.5,1634.9 L1038.5,1623.2 L1039.6,1631.8 L1040.6,1627.8 L1041.6,1621.0 L1042.7,1621.8 L1043.7,1623.4 L1044.7,1619.7 L1045.8,1617.3 L1046.8,1602.6 L1047.8,1608.0 L1048.9,1599.6 L1049.9,1577.3 L1050.9,1582.2 L1051.9,1559.2 L1053.0,1547.1 L1054.0,1541.4 L1055.0,1534.7 L1056.1,1512.0 L1057.1,1497.8 L1058.1,1483.4 L1059.2,1476.5 L1060.2,1461.8 L1061.2,1454.7 L1062.3,1461.1 L1063.3,1444.0 L1064.3,1446.7 L1065.4,1449.1 L1066.4,1449.5 L1067.4,1443.6 L1068.5,1453.8 L1069.5,1474.6 L1070.5,1472.1 L1071.6,1482.8 L1072.6,1494.5 L1073.6,1507.0 L1074.7,1519.1 L1075.7,1508.1 L1076.7,1515.7 L1077.8,1509.3 L1078.8,1505.9 L1079.8,1501.3 L1080.9,1487.5 L1081.9,1480.1 L1082.9,1474.1 L1084.0,1463.4 L1085.0,1449.6 L1086.0,1431.9 L1087.1,1424.4 L1088.1,1412.7 L1089.1,1405.2 L1090.2,1397.1 L1091.2,1388.2 L1092.2,1390.7 L1093.3,1370.5 L1094.3,1377.2 L1095.3,1374.5 L1096.4,1365.3 L1097.4,1369.2 L1098.4,1369.1 L1099.5,1371.2 L1100.5,1374.8 L1101.5,1367.0 L1102.6,1362.5 L1103.6,1371.3 L1104.6,1363.7 L1105.6,1379.4 L1106.7,1384.5 L1107.7,1386.1 L1108.7,1394.0 L1109.8,1393.9 L1110.8,1401.1 L1111.8,1403.1 L1112.9,1407.0 L1113.9,1404.7 L1114.9,1404.4 L1116.0,1406.3 L1117.0,1399.0 L1118.0,1403.8 L1119.1,1409.5 L1120.1,1394.6 L1121.1,1408.1 L1122.2,1412.4 L1123.2,1404.3 L1124.2,1408.1 L1125.3,1422.9 L1126.3,1430.5 L1127.3,1435.7 L1128.4,1433.5 L1129.4,1447.8 L1130.4,1457.5 L1131.5,1461.4 L1132.5,1463.1 L1133.5,1483.6 L1134.6,1486.4 L1135.6,1499.1 L1136.6,1491.0 L1137.7,1498.7 L1138.7,1510.8 L1139.7,1524.2 L1140.8,1528.7 L1141.8,1550.3 L1142.8,1547.4 L1143.9,1562.6 L1144.9,1567.4 L1145.9,1568.6 L1147.0,1570.8 L1148.0,1568.9 L1149.0,1570.0 L1150.1,1572.4 L1151.1,1577.5 L1152.1,1566.1 L1153.2,1566.8 L1154.2,1555.2 L1155.2,1561.3 L1156.2,1560.1 L1157.3,1546.9 L1158.3,1525.9 L1159.3,1520.5 L1160.4,1509.7 L1161.4,1489.9 L1162.4,1477.1 L1163.5,1459.9 L1164.5,1442.1 L1165.5,1401.6 L1166.6,1364.6 L1167.6,1334.8 L1168.6,1304.8 L1169.7,1269.7 L1170.7,1234.6 L1171.7,1201.7 L1172.8,1167.7 L1173.8,1133.8 L1174.8,1096.2 L1175.9,1066.3 L1176.9,1038.1 L1177.9,1011.7 L1179.0,999.1 L1180.0,1002.7 L1181.0,1022.3 L1182.1,1048.3 L1183.1,1090.1 L1184.1,1132.1 L1185.2,1166.2 L1186.2,1200.5 L1187.2,1223.3 L1188.3,1259.8 L1189.3,1302.8 L1190.3,1329.1 L1191.4,1357.6 L1192.4,1375.5 L1193.4,1397.8 L1194.5,1438.2 L1195.5,1456.5 L1196.5,1490.6 L1197.6,1501.1 L1198.6,1514.0 L1199.6,1519.2 L1200.7,1530.2 L1201.7,1540.7 L1202.7,1546.7 L1203.8,1550.5 L1204.8,1545.7 L1205.8,1556.0 L1206.8,1550.7 L1207.9,1554.5 L1208.9,1553.3 L1209.9,1556.3 L1211.0,1546.3 L1212.0,1559.6 L1213.0,1555.8 L1214.1,1557.0 L1215.1,1557.5 L1216.1,1561.4 L1217.2,1565.3 L1218.2,1566.5 L1219.2,1583.8 L1220.3,1580.0 L1221.3,1590.4 L1222.3,1585.9 L1223.4,1595.7 L1224.4,1596.2 L1225.4,1592.9 L1226.5,1586.6 L1227.5,1592.4 L1228.5,1595.1 L1229.6,1590.3 L1230.6,1603.7 L1231.6,1609.0 L1232.7,1601.9 L1233.7,1601.2 L1234.7,1592.2 L1235.8,1587.3 L1236.8,1601.1 L1237.8,1581.3 L1238.9,1578.7 L1239.9,1578.5 L1240.9,1576.8 L1242.0,1565.5 L1243.0,1570.7 L1244.0,1570.1 L1245.1,1563.2 L1246.1,1566.8 L1247.1,1553.5 L1248.2,1552.7 L1249.2,1547.3 L1250.2,1544.6 L1251.3,1549.9 L1252.3,1536.6 L1253.3,1546.6 L1254.4,1535.8 L1255.4,1546.7 L1256.4,1536.0 L1257.4,1540.9 L1258.5,1536.0 L1259.5,1538.9 L1260.5,1544.5 L1261.6,1541.5 L1262.6,1536.7 L1263.6,1535.7 L1264.7,1548.0 L1265.7,1552.3 L1266.7,1550.6 L1267.8,1550.4 L1268.8,1555.8 L1269.8,1560.0 L1270.9,1555.3 L1271.9,1559.7 L1272.9,1566.7 L1274.0,1581.1 L1275.0,1580.9 L1276.0,1586.0 L1277.1,1595.6 L1278.1,1586.8 L1279.1,1593.7 L1280.2,1599.2 L1281.2,1591.7 L1282.2,1597.2 L1283.3,1598.8 L1284.3,1598.9 L1285.3,1603.3 L1286.4,1615.5 L1287.4,1612.6 L1288.4,1606.9 L1289.5,1617.6 L1290.5,1614.7 L1291.5,1613.9 L1292.6,1609.3 L1293.6,1610.9 L1294.6,1613.7 L1295.7,1620.2 L1296.7,1615.2 L1297.7,1617.9 L1298.8,1622.2 L1299.8,1614.8 L1300.8,1619.9 L1301.9,1627.0 L1302.9,1616.8 L1303.9,1625.2 L1305.0,1620.9 L1306.0,1632.3 L1307.0,1624.4 L1308.0,1629.3 L1309.1,1629.5 L1310.1,1633.9 L1311.1,1614.9 L1312.2,1625.1 L1313.2,1623.1 L1314.2,1618.5 L1315.3,1625.0 L1316.3,1621.6 L1317.3,1631.5 L1318.4,1623.3 L1319.4,1626.5 L1320.4,1621.7 L1321.5,1623.4 L1322.5,1631.7 L1323.5,1633.9 L1324.6,1629.7 L1325.6,1620.5 L1326.6,1622.1 L1327.7,1622.2 L1328.7,1633.9 L1329.7,1633.9 L1330.8,1627.6 L1331.8,1626.1 L1332.8,1627.5 L1333.9,1622.5 L1334.9,1625.3 L1335.9,1630.6 L1337.0,1629.0 L1338.0,1623.6 L1339.0,1624.0 L1340.1,1624.8 L1341.1,1615.0 L1342.1,1625.8 L1343.2,1623.8 L1344.2,1629.6 L1345.2,1626.3 L1346.3,1621.6 L1347.3,1621.4 L1348.3,1625.2 L1349.4,1622.3 L1350.4,1624.1 L1351.4,1633.8 L1352.5,1633.8 L1353.5,1615.0 L1354.5,1620.1 L1355.6,1624.7 L1356.6,1633.5 L1357.6,1631.1 L1358.6,1617.3 L1359.7,1633.8 L1360.7,1626.1 L1361.7,1619.9 L1362.8,1623.7 L1363.8,1620.5 L1364.8,1625.1 L1365.9,1615.0 L1366.9,1629.8 L1367.9,1631.5 L1369.0,1623.0 L1370.0,1616.9 L1371.0,1624.7 L1372.1,1618.9 L1373.1,1627.2 L1374.1,1630.6 L1375.2,1617.1 L1376.2,1616.2 L1377.2,1616.4 L1378.3,1626.7 L1379.3,1630.4 L1380.3,1630.5 L1381.4,1625.6 L1382.4,1621.4 L1383.4,1621.8 L1384.5,1631.9 L1385.5,1623.4 L1386.5,1624.3 L1387.6,1623.9 L1388.6,1624.5 L1389.6,1625.4 L1390.7,1621.3 L1391.7,1623.7 L1392.7,1623.2 L1393.8,1628.0 L1394.8,1622.3 L1395.8,1625.0 L1396.9,1633.7 L1397.9,1621.9 L1398.9,1625.8 L1400.0,1619.6 L1401.0,1625.2 L1402.0,1624.9 L1403.1,1623.3 L1404.1,1624.5 L1405.1,1626.7 L1406.2,1633.7 L1407.2,1615.1 L1408.2,1632.6 L1409.3,1626.2 L1410.3,1621.0 L1411.3,1622.4 L1412.3,1621.5 L1413.4,1620.4 L1414.4,1617.9 L1415.4,1622.9 L1416.5,1615.1 L1417.5,1629.6 L1418.5,1623.2 L1419.6,1626.3 L1420.6,1627.2 L1421.6,1622.9 L1422.7,1616.9 L1423.7,1628.1 L1424.7,1628.1 L1425.8,1620.7 L1426.8,1621.6 L1427.8,1615.1 L1428.9,1619.1 L1429.9,1623.1 L1430.9,1626.0 L1432.0,1623.1 L1433.0,1625.1 L1434.0,1631.1 L1435.1,1624.0 L1436.1,1624.8 L1437.1,1625.0 L1438.2,1626.0 L1439.2,1615.0 L1440.2,1619.9 L1441.3,1618.6 L1442.3,1626.4 L1443.3,1628.4 L1444.4,1624.4 L1445.4,1621.6 L1446.4,1624.4 L1447.5,1623.4 L1448.5,1617.4 L1449.5,1620.6 L1450.6,1627.0 L1451.6,1623.9 L1452.6,1624.9 L1453.7,1620.4 L1454.7,1627.0 L1455.7,1621.8 L1456.8,1617.1 L1457.8,1620.2 L1458.8,1624.8 L1459.9,1623.0 L1460.9,1619.0 L1461.9,1616.9 L1462.9,1614.8 L1464.0,1619.5 L1465.0,1625.2 L1466.0,1610.9 L1467.1,1616.3 L1468.1,1615.5 L1469.1,1615.7 L1470.2,1622.2 L1471.2,1618.1 L1472.2,1614.6 L1473.3,1610.1 L1474.3,1614.2 L1475.3,1622.8 L1476.4,1614.0 L1477.4,1610.1 L1478.4,1604.3 L1479.5,1606.3 L1480.5,1599.8 L1481.5,1600.6 L1482.6,1600.0 L1483.6,1601.0 L1484.6,1611.7 L1485.7,1599.6 L1486.7,1599.8 L1487.7,1604.3 L1488.8,1597.7 L1489.8,1597.4 L1490.8,1600.6 L1491.9,1597.8 L1492.9,1597.4 L1493.9,1593.8 L1495.0,1596.0 L1496.0,1590.2 L1497.0,1600.8 L1498.1,1592.4 L1499.1,1598.5 L1500.1,1591.9 L1501.2,1586.3 L1502.2,1588.0 L1503.2,1587.9 L1504.3,1586.5 L1505.3,1578.7 L1506.3,1591.4 L1507.4,1581.7 L1508.4,1593.4 L1509.4,1588.5 L1510.5,1585.6 L1511.5,1590.8 L1512.5,1586.0 L1513.5,1583.8 L1514.6,1593.5 L1515.6,1588.5 L1516.6,1590.3 L1517.7,1597.7 L1518.7,1590.4 L1519.7,1593.9 L1520.8,1584.2 L1521.8,1595.8 L1522.8,1584.1 L1523.9,1595.8 L1524.9,1585.4 L1525.9,1592.5 L1527.0,1593.9 L1528.0,1593.2 L1529.0,1593.8 L1530.1,1592.5 L1531.1,1592.1 L1532.1,1603.8 L1533.2,1609.8 L1534.2,1614.1 L1535.2,1608.8 L1536.3,1604.8 L1537.3,1608.3 L1538.3,1611.1 L1539.4,1614.9 L1540.4,1617.6 L1541.4,1617.0 L1542.5,1614.6 L1543.5,1626.3 L1544.5,1614.9 L1545.6,1626.8 L1546.6,1621.2 L1547.6,1624.5 L1548.7,1624.0 L1549.7,1628.1 L1550.7,1629.2 L1551.8,1625.1 L1552.8,1629.7 L1553.8,1615.3 L1554.9,1626.4 L1555.9,1627.6 L1556.9,1627.1 L1558.0,1629.7 L1559.0,1633.3 L1560.0,1625.6 L1561.1,1622.8 L1562.1,1631.9 L1563.1,1624.3 L1564.1,1630.4 L1565.2,1624.5 L1566.2,1622.5 L1567.2,1621.9 L1568.3,1622.2 L1569.3,1627.9 L1570.3,1619.9 L1571.4,1626.6 L1572.4,1622.6 L1573.4,1620.8 L1574.5,1625.9 L1575.5,1630.8 L1576.5,1621.3 L1577.6,1629.9 L1578.6,1628.8 L1579.6,1629.8 L1580.7,1620.1 L1581.7,1625.2 L1582.7,1633.3 L1583.8,1620.7 L1584.8,1615.3 L1585.8,1615.4 L1586.9,1627.2 L1587.9,1624.0 L1588.9,1621.8 L1590.0,1619.9 L1591.0,1624.2 L1592.0,1629.8 L1593.1,1620.6 L1594.1,1621.3 L1595.1,1631.0 L1596.2,1626.2 L1597.2,1623.0 L1598.2,1624.4 L1599.3,1621.7 L1600.3,1620.4 L1601.3,1621.7 L1602.4,1624.9 L1603.4,1631.1 L1604.4,1621.2 L1605.5,1617.2 L1606.5,1615.0 L1607.5,1623.9 L1608.6,1623.5 L1609.6,1615.8 L1610.6,1615.4 L1611.7,1620.3 L1612.7,1618.0 L1613.7,1624.7 L1614.7,1617.4 L1615.8,1623.7 L1616.8,1619.7 L1617.8,1618.9 L1618.9,1619.7 L1619.9,1624.9 L1620.9,1618.6 L1622.0,1611.1 L1623.0,1610.9 L1624.0,1610.3 L1625.1,1604.0 L1626.1,1600.4 L1627.1,1597.3 L1628.2,1602.9 L1629.2,1596.8 L1630.2,1596.5 L1631.3,1597.3 L1632.3,1598.8 L1633.3,1590.9 L1634.4,1593.4 L1635.4,1579.4 L1636.4,1587.3 L1637.5,1586.7 L1638.5,1586.4 L1639.5,1574.9 L1640.6,1586.9 L1641.6,1582.3 L1642.6,1584.4 L1643.7,1580.7 L1644.7,1579.7 L1645.7,1574.0 L1646.8,1585.5 L1647.8,1579.0 L1648.8,1571.9 L1649.9,1583.0 L1650.9,1583.0 L1651.9,1588.4 L1653.0,1594.8 L1654.0,1589.3 L1655.0,1585.7 L1656.1,1595.8 L1657.1,1604.2 L1658.1,1596.4 L1659.2,1599.5 L1660.2,1597.4 L1661.2,1600.2 L1662.3,1608.3 L1663.3,1607.3 L1664.3,1620.0 L1665.3,1607.8 L1666.4,1613.9 L1667.4,1610.7 L1668.4,1611.9 L1669.5,1619.5 L1670.5,1619.8 L1671.5,1624.3 L1672.6,1629.7 L1673.6,1622.5 L1674.6,1621.9 L1675.7,1628.7 L1676.7,1620.6 L1677.7,1624.1 L1678.8,1622.8 L1679.8,1629.1 L1680.8,1634.2 L1681.9,1621.9 L1682.9,1622.7 L1683.9,1626.2 L1685.0,1627.7 L1686.0,1627.0 L1687.0,1626.4 L1688.1,1628.2 L1689.1,1634.4 L1690.1,1621.9 L1691.2,1633.0 L1692.2,1627.3 L1693.2,1627.2 L1694.3,1624.4 L1695.3,1633.6 L1696.3,1619.8 L1697.4,1622.5 L1698.4,1621.9 L1699.4,1619.5 L1700.5,1629.6 L1701.5,1634.4 L1702.5,1624.0 L1703.6,1619.3 L1704.6,1620.0 L1705.6,1628.3 L1706.7,1626.1 L1707.7,1624.3 L1708.7,1634.4 L1709.8,1628.9 L1710.8,1628.7 L1711.8,1617.9 L1712.9,1628.8 L1713.9,1618.0 L1714.9,1625.6 L1716.0,1633.8 L1717.0,1616.9 L1718.0,1630.3 L1719.0,1622.6 L1720.1,1617.3 L1721.1,1628.2 L1722.1,1631.6 L1723.2,1620.6 L1724.2,1625.3 L1725.2,1631.5 L1726.3,1630.8 L1727.3,1627.3 L1728.3,1620.2 L1729.4,1625.3 L1730.4,1619.6 L1731.4,1613.4 L1732.5,1613.6 L1733.5,1611.0 L1734.5,1610.1 L1735.6,1621.7 L1736.6,1606.3 L1737.6,1608.5 L1738.7,1608.8 L1739.7,1611.3 L1740.7,1611.6 L1741.8,1607.1 L1742.8,1599.6 L1743.8,1602.5 L1744.9,1598.1 L1745.9,1594.4 L1746.9,1585.6 L1748.0,1587.0 L1749.0,1583.1 L1750.0,1573.1 L1751.1,1577.2 L1752.1,1568.9 L1753.1,1571.4 L1754.2,1560.0 L1755.2,1556.1 L1756.2,1551.6 L1757.3,1551.4 L1758.3,1551.2 L1759.3,1545.4 L1760.4,1544.0 L1761.4,1535.8 L1762.4,1535.5 L1763.5,1545.2 L1764.5,1539.8 L1765.5,1548.5 L1766.6,1548.4 L1767.6,1556.0 L1768.6,1563.9 L1769.6,1556.4 L1770.7,1562.2 L1771.7,1573.2 L1772.7,1579.6 L1773.8,1577.7 L1774.8,1584.1 L1775.8,1583.4 L1776.9,1581.1 L1777.9,1578.2 L1778.9,1586.9 L1780.0,1579.1 L1781.0,1580.2 L1782.0,1587.6 L1783.1,1593.4 L1784.1,1582.0 L1785.1,1583.3 L1786.2,1578.3 L1787.2,1580.7 L1788.2,1584.6 L1789.3,1581.7 L1790.3,1595.7 L1791.3,1591.5 L1792.4,1595.3 L1793.4,1587.6 L1794.4,1594.6 L1795.5,1607.1 L1796.5,1594.0 L1797.5,1606.3 L1798.6,1600.4 L1799.6,1608.3 L1800.6,1606.9 L1801.7,1607.1 L1802.7,1611.1 L1803.7,1618.2 L1804.8,1608.7 L1805.8,1614.8 L1806.8,1617.7 L1807.9,1614.9 L1808.9,1621.3 L1809.9,1610.8 L1811.0,1618.6 L1812.0,1618.3 L1813.0,1618.8 L1814.1,1625.1 L1815.1,1626.6 L1816.1,1620.3 L1817.2,1620.0 L1818.2,1615.5 L1819.2,1620.0 L1820.2,1627.5 L1821.3,1620.0 L1822.3,1618.7 L1823.3,1618.1 L1824.4,1621.4 L1825.4,1628.9 L1826.4,1617.7 L1827.5,1626.8 L1828.5,1620.7 L1829.5,1631.0 L1830.6,1620.1 L1831.6,1627.5 L1832.6,1618.8 L1833.7,1615.7 L1834.7,1618.6 L1835.7,1629.8 L1836.8,1628.8 L1837.8,1628.6 L1838.8,1621.4 L1839.9,1623.0 L1840.9,1624.0 L1841.9,1623.3 L1843.0,1622.1 L1844.0,1621.9 L1845.0,1617.1 L1846.1,1625.4 L1847.1,1624.2 L1848.1,1633.8 L1849.2,1631.5 L1850.2,1628.6 L1851.2,1631.0 L1852.3,1624.4 L1853.3,1620.6 L1854.3,1627.5 L1855.4,1627.8 L1856.4,1627.9 L1857.4,1624.9 L1858.5,1628.1 L1859.5,1623.6"/>
<path d="M310.5,2359.3 L311.5,2333.8 L312.6,2336.4 L313.6,2369.8 L314.6,2365.7 L315.7,2370.2 L316.7,2349.0 L317.7,2361.1 L318.8,2345.6 L319.8,2395.5 L320.8,2329.9 L321.9,2361.8 L322.9,2346.9 L323.9,2362.5 L325.0,2367.2 L326.0,2350.9 L327.0,2343.9 L328.1,2363.5 L329.1,2362.5 L330.1,2346.3 L331.2,2376.1 L332.2,2388.3 L333.2,2351.5 L334.3,2371.8 L335.3,2395.7 L336.3,2374.3 L337.3,2367.4 L338.4,2381.2 L339.4,2386.7 L340.4,2357.2 L341.5,2340.5 L342.5,2362.0 L343.5,2371.6 L344.6,2349.7 L345.6,2343.2 L346.6,2362.4 L347.7,2346.0 L348.7,2336.3 L349.7,2360.0 L350.8,2371.3 L351.8,2348.9 L352.8,2350.5 L353.9,2334.0 L354.9,2379.3 L355.9,2367.2 L357.0,2370.3 L358.0,2387.1 L359.0,2351.4 L360.1,2343.5 L361.1,2367.4 L362.1,2326.6 L363.2,2337.1 L364.2,2340.6 L365.2,2344.6 L366.3,2333.8 L367.3,2377.1 L368.3,2339.9 L369.4,2339.8 L370.4,2384.7 L371.4,2344.2 L372.5,2355.3 L373.5,2335.5 L374.5,2358.5 L375.6,2350.2 L376.6,2343.2 L377.6,2366.1 L378.7,2337.9 L379.7,2351.1 L380.7,2339.5 L381.8,2358.5 L382.8,2327.9 L383.8,2336.8 L384.9,2351.4 L385.9,2335.8 L386.9,2323.7 L387.9,2313.5 L389.0,2376.9 L390.0,2330.2 L391.0,2337.9 L392.1,2348.2 L393.1,2365.2 L394.1,2322.2 L395.2,2369.5 L396.2,2334.8 L397.2,2320.6 L398.3,2375.1 L399.3,2350.4 L400.3,2369.1 L401.4,2339.6 L402.4,2315.4 L403.4,2306.1 L404.5,2376.9 L405.5,2354.0 L406.5,2329.7 L407.6,2313.0 L408.6,2334.6 L409.6,2356.3 L410.7,2336.4 L411.7,2342.1 L412.7,2345.4 L413.8,2355.1 L414.8,2333.8 L415.8,2335.1 L416.9,2342.4 L417.9,2344.6 L418.9,2364.3 L420.0,2349.1 L421.0,2317.2 L422.0,2343.1 L423.1,2366.3 L424.1,2314.2 L425.1,2329.1 L426.2,2301.4 L427.2,2337.5 L428.2,2347.1 L429.3,2365.3 L430.3,2313.4 L431.3,2300.6 L432.4,2353.2 L433.4,2349.8 L434.4,2326.4 L435.5,2352.9 L436.5,2342.4 L437.5,2343.8 L438.5,2333.5 L439.6,2316.6 L440.6,2336.5 L441.6,2319.7 L442.7,2344.6 L443.7,2330.6 L444.7,2373.9 L445.8,2363.6 L446.8,2321.6 L447.8,2347.4 L448.9,2325.5 L449.9,2326.1 L450.9,2311.5 L452.0,2321.0 L453.0,2317.1 L454.0,2338.0 L455.1,2348.9 L456.1,2349.4 L457.1,2344.8 L458.2,2356.7 L459.2,2345.8 L460.2,2337.2 L461.3,2330.7 L462.3,2341.7 L463.3,2371.1 L464.4,2336.6 L465.4,2331.0 L466.4,2314.9 L467.5,2324.3 L468.5,2346.9 L469.5,2348.4 L470.6,2297.7 L471.6,2320.8 L472.6,2300.7 L473.7,2297.6 L474.7,2349.9 L475.7,2327.5 L476.8,2326.1 L477.8,2324.1 L478.8,2324.4 L479.9,2330.7 L480.9,2331.2 L481.9,2362.2 L483.0,2337.4 L484.0,2348.2 L485.0,2331.9 L486.1,2342.9 L487.1,2322.7 L488.1,2319.0 L489.2,2328.4 L490.2,2328.2 L491.2,2332.4 L492.2,2342.4 L493.3,2337.1 L494.3,2343.2 L495.3,2326.8 L496.4,2333.8 L497.4,2323.2 L498.4,2358.6 L499.5,2317.5 L500.5,2348.1 L501.5,2347.6 L502.6,2337.7 L503.6,2344.5 L504.6,2328.7 L505.7,2344.8 L506.7,2354.1 L507.7,2350.0 L508.8,2310.1 L509.8,2333.7 L510.8,2356.3 L511.9,2334.6 L512.9,2363.7 L513.9,2301.8 L515.0,2363.4 L516.0,2326.4 L517.0,2325.3 L518.1,2362.5 L519.1,2330.2 L520.1,2317.4 L521.2,2327.4 L522.2,2331.4 L523.2,2318.8 L524.3,2333.7 L525.3,2330.6 L526.3,2339.5 L527.4,2325.6 L528.4,2355.1 L529.4,2323.0 L530.5,2347.4 L531.5,2358.6 L532.5,2331.7 L533.6,2307.2 L534.6,2321.1 L535.6,2348.8 L536.7,2326.5 L537.7,2348.2 L538.7,2342.3 L539.8,2338.6 L540.8,2377.9 L541.8,2337.2 L542.8,2360.3 L543.9,2354.4 L544.9,2369.2 L545.9,2370.2 L547.0,2359.8 L548.0,2327.0 L549.0,2311.6 L550.1,2343.5 L551.1,2322.8 L552.1,2348.5 L553.2,2379.6 L554.2,2341.3 L555.2,2336.0 L556.3,2352.6 L557.3,2339.2 L558.3,2334.4 L559.4,2361.6 L560.4,2373.4 L561.4,2350.1 L562.5,2350.1 L563.5,2353.0 L564.5,2328.1 L565.6,2314.5 L566.6,2355.0 L567.6,2334.3 L568.7,2330.0 L569.7,2334.5 L570.7,2328.5 L571.8,2355.8 L572.8,2334.8 L573.8,2311.4 L574.9,2334.1 L575.9,2361.2 L576.9,2338.4 L578.0,2326.4 L579.0,2343.5 L580.0,2361.4 L581.1,2321.9 L582.1,2374.9 L583.1,2342.1 L584.2,2352.2 L585.2,2374.8 L586.2,2329.5 L587.3,2346.2 L588.3,2375.1 L589.3,2342.0 L590.4,2361.8 L591.4,2389.9 L592.4,2367.2 L593.4,2349.5 L594.5,2342.7 L595.5,2351.9 L596.5,2354.4 L597.6,2346.6 L598.6,2359.7 L599.6,2333.6 L600.7,2353.3 L601.7,2350.8 L602.7,2346.3 L603.8,2376.9 L604.8,2370.5 L605.8,2328.3 L606.9,2351.1 L607.9,2363.1 L608.9,2351.5 L610.0,2367.3 L611.0,2353.1 L612.0,2371.3 L613.1,2353.6 L614.1,2389.1 L615.1,2334.1 L616.2,2369.3 L617.2,2389.9 L618.2,2364.3 L619.3,2367.3 L620.3,2357.6 L621.3,2382.5 L622.4,2353.3 L623.4,2323.0 L624.4,2385.7 L625.5,2355.1 L626.5,2367.6 L627.5,2358.2 L628.6,2396.6 L629.6,2384.2 L630.6,2353.7 L631.7,2363.3 L632.7,2331.6 L633.7,2376.4 L634.8,2359.7 L635.8,2325.0 L636.8,2377.9 L637.9,2380.7 L638.9,2364.2 L639.9,2364.5 L641.0,2347.6 L642.0,2361.3 L643.0,2378.3 L644.0,2359.9 L645.1,2325.8 L646.1,2339.7 L647.1,2402.2 L648.2,2366.7 L649.2,2380.7 L650.2,2352.1 L651.3,2367.3 L652.3,2327.1 L653.3,2346.1 L654.4,2346.9 L655.4,2360.2 L656.4,2364.5 L657.5,2357.1 L658.5,2338.8 L659.5,2353.2 L660.6,2369.9 L661.6,2338.8 L662.6,2359.2 L663.7,2364.2 L664.7,2377.5 L665.7,2373.0 L666.8,2374.0 L667.8,2399.7 L668.8,2342.0 L669.9,2350.2 L670.9,2364.7 L671.9,2340.4 L673.0,2351.5 L674.0,2352.3 L675.0,2396.4 L676.1,2362.7 L677.1,2347.8 L678.1,2327.2 L679.2,2322.4 L680.2,2329.3 L681.2,2369.0 L682.3,2373.1 L683.3,2322.3 L684.3,2330.3 L685.4,2312.2 L686.4,2329.9 L687.4,2322.4 L688.5,2351.0 L689.5,2315.9 L690.5,2330.1 L691.6,2315.3 L692.6,2312.5 L693.6,2321.3 L694.6,2313.1 L695.7,2317.8 L696.7,2304.1 L697.7,2307.8 L698.8,2324.6 L699.8,2324.7 L700.8,2285.6 L701.9,2315.6 L702.9,2297.3 L703.9,2306.8 L705.0,2322.1 L706.0,2324.8 L707.0,2310.5 L708.1,2308.1 L709.1,2302.2 L710.1,2332.4 L711.2,2321.5 L712.2,2313.5 L713.2,2286.6 L714.3,2343.8 L715.3,2305.4 L716.3,2321.0 L717.4,2306.0 L718.4,2320.7 L719.4,2307.7 L720.5,2289.4 L721.5,2308.6 L722.5,2307.8 L723.6,2309.2 L724.6,2327.0 L725.6,2307.6 L726.7,2319.6 L727.7,2329.2 L728.7,2317.9 L729.8,2321.3 L730.8,2306.9 L731.8,2319.4 L732.9,2327.2 L733.9,2297.8 L734.9,2305.3 L736.0,2301.5 L737.0,2311.7 L738.0,2322.7 L739.1,2327.5 L740.1,2325.7 L741.1,2307.9 L742.2,2320.3 L743.2,2343.6 L744.2,2322.6 L745.2,2342.5 L746.3,2319.6 L747.3,2339.3 L748.3,2340.0 L749.4,2320.2 L750.4,2322.9 L751.4,2345.3 L752.5,2311.2 L753.5,2293.5 L754.5,2342.3 L755.6,2296.1 L756.6,2331.0 L757.6,2328.1 L758.7,2323.7 L759.7,2340.9 L760.7,2303.2 L761.8,2314.1 L762.8,2330.9 L763.8,2324.3 L764.9,2340.9 L765.9,2325.0 L766.9,2307.7 L768.0,2342.8 L769.0,2325.6 L770.0,2317.6 L771.1,2305.5 L772.1,2301.2 L773.1,2324.3 L774.2,2327.4 L775.2,2311.4 L776.2,2321.3 L777.3,2319.9 L778.3,2301.3 L779.3,2292.7 L780.4,2310.1 L781.4,2315.0 L782.4,2304.4 L783.5,2334.6 L784.5,2309.8 L785.5,2321.9 L786.6,2282.2 L787.6,2297.2 L788.6,2303.3 L789.7,2306.3 L790.7,2327.6 L791.7,2292.5 L792.8,2279.7 L793.8,2307.4 L794.8,2288.1 L795.9,2285.7 L796.9,2311.4 L797.9,2278.5 L798.9,2270.9 L800.0,2281.9 L801.0,2282.6 L802.0,2269.5 L803.1,2294.3 L804.1,2271.6 L805.1,2257.1 L806.2,2280.8 L807.2,2251.0 L808.2,2263.6 L809.3,2277.7 L810.3,2251.2 L811.3,2256.1 L812.4,2236.0 L813.4,2246.7 L814.4,2214.8 L815.5,2226.2 L816.5,2204.5 L817.5,2203.7 L818.6,2187.8 L819.6,2156.7 L820.6,2148.1 L821.7,2132.2 L822.7,2108.0 L823.7,2062.4 L824.8,2045.7 L825.8,2035.5 L826.8,2012.3 L827.9,2003.2 L828.9,1985.0 L829.9,1968.0 L831.0,1947.2 L832.0,1936.9 L833.0,1934.1 L834.1,1915.6 L835.1,1906.5 L836.1,1902.0 L837.2,1890.3 L838.2,1894.1 L839.2,1889.4 L840.3,1882.6 L841.3,1882.7 L842.3,1875.5 L843.4,1885.7 L844.4,1869.3 L845.4,1882.5 L846.5,1885.6 L847.5,1903.8 L848.5,1903.7 L849.5,1911.0 L850.6,1925.5 L851.6,1941.5 L852.6,1973.1 L853.7,1985.0 L854.7,2000.9 L855.7,2021.9 L856.8,2021.0 L857.8,2041.9 L858.8,2056.8 L859.9,2066.5 L860.9,2094.7 L861.9,2111.1 L863.0,2126.4 L864.0,2126.4 L865.0,2139.1 L866.1,2147.2 L867.1,2151.8 L868.1,2184.3 L869.2,2184.7 L870.2,2185.3 L871.2,2207.4 L872.3,2205.9 L873.3,2196.6 L874.3,2201.9 L875.4,2208.5 L876.4,2226.0 L877.4,2236.4 L878.5,2230.8 L879.5,2254.4 L880.5,2253.8 L881.6,2248.4 L882.6,2270.2 L883.6,2273.2 L884.7,2264.8 L885.7,2254.8 L886.7,2251.4 L887.8,2249.3 L888.8,2239.0 L889.8,2255.5 L890.9,2241.5 L891.9,2224.0 L892.9,2227.3 L894.0,2222.7 L895.0,2212.0 L896.0,2199.5 L897.1,2182.7 L898.1,2181.3 L899.1,2160.6 L900.1,2138.4 L901.2,2145.9 L902.2,2121.6 L903.2,2115.7 L904.3,2104.7 L905.3,2071.3 L906.3,2050.7 L907.4,2010.2 L908.4,1995.4 L909.4,1949.7 L910.5,1924.3 L911.5,1908.1 L912.5,1859.2 L913.6,1824.0 L914.6,1809.7 L915.6,1777.6 L916.7,1770.0 L917.7,1755.8 L918.7,1768.6 L919.8,1772.9 L920.8,1799.2 L921.8,1819.0 L922.9,1825.8 L923.9,1837.2 L924.9,1871.6 L926.0,1885.7 L927.0,1909.8 L928.0,1931.4 L929.1,1945.8 L930.1,1962.5 L931.1,2013.8 L932.2,2035.5 L933.2,2067.2 L934.2,2110.0 L935.3,2112.1 L936.3,2136.4 L937.3,2193.8 L938.4,2198.9 L939.4,2239.8 L940.4,2256.7 L941.5,2251.6 L942.5,2275.3 L943.5,2283.3 L944.6,2278.2 L945.6,2287.0 L946.6,2296.5 L947.7,2325.6 L948.7,2331.1 L949.7,2304.9 L950.7,2330.2 L951.8,2321.0 L952.8,2336.8 L953.8,2329.2 L954.9,2343.3 L955.9,2313.2 L956.9,2344.5 L958.0,2336.6 L959.0,2339.5 L960.0,2326.3 L961.1,2357.7 L962.1,2344.4 L963.1,2348.4 L964.2,2342.0 L965.2,2344.3 L966.2,2356.2 L967.3,2349.4 L968.3,2356.9 L969.3,2347.8 L970.4,2354.1 L971.4,2360.0 L972.4,2352.7 L973.5,2347.9 L974.5,2329.2 L975.5,2356.2 L976.6,2346.6 L977.6,2333.1 L978.6,2370.4 L979.7,2366.6 L980.7,2359.5 L981.7,2346.8 L982.8,2322.7 L983.8,2339.1 L984.8,2328.9 L985.9,2343.0 L986.9,2360.5 L987.9,2358.6 L989.0,2323.9 L990.0,2330.5 L991.0,2343.8 L992.1,2315.2 L993.1,2340.2 L994.1,2308.5 L995.2,2299.6 L996.2,2314.3 L997.2,2307.9 L998.3,2278.0 L999.3,2288.4 L1000.3,2261.9 L1001.3,2275.9 L1002.4,2250.4 L1003.4,2251.9 L1004.4,2252.2 L1005.5,2252.8 L1006.5,2239.4 L1007.5,2257.4 L1008.6,2240.2 L1009.6,2239.6 L1010.6,2228.0 L1011.7,2245.0 L1012.7,2216.6 L1013.7,2235.2 L1014.8,2245.1 L1015.8,2226.7 L1016.8,2231.1 L1017.9,2256.2 L1018.9,2270.0 L1019.9,2268.9 L1021.0,2284.2 L1022.0,2288.8 L1023.0,2277.7 L1024.1,2295.8 L1025.1,2304.8 L1026.1,2309.1 L1027.2,2319.2 L1028.2,2315.3 L1029.2,2319.4 L1030.3,2335.8 L1031.3,2332.9 L1032.3,2314.8 L1033.4,2332.9 L1034.4,2340.8 L1035.4,2319.2 L1036.5,2341.4 L1037.5,2354.1 L1038.5,2336.4 L1039.6,2353.8 L1040.6,2350.1 L1041.6,2341.9 L1042.7,2346.9 L1043.7,2353.6 L1044.7,2351.4 L1045.8,2351.8 L1046.8,2333.4 L1047.8,2353.2 L1048.9,2351.6 L1049.9,2324.7 L1050.9,2351.4 L1051.9,2330.0 L1053.0,2331.9 L1054.0,2347.2 L1055.0,2360.4 L1056.1,2340.8 L1057.1,2338.1 L1058.1,2334.2 L1059.2,2342.2 L1060.2,2328.8 L1061.2,2325.0 L1062.3,2347.9 L1063.3,2319.8 L1064.3,2329.9 L1065.4,2334.5 L1066.4,2328.8 L1067.4,2303.5 L1068.5,2309.0 L1069.5,2331.8 L1070.5,2307.2 L1071.6,2302.4 L1072.6,2295.1 L1073.6,2290.1 L1074.7,2290.6 L1075.7,2260.3 L1076.7,2268.4 L1077.8,2253.5 L1078.8,2244.9 L1079.8,2233.7 L1080.9,2206.1 L1081.9,2190.9 L1082.9,2178.5 L1084.0,2157.4 L1085.0,2129.9 L1086.0,2094.6 L1087.1,2073.9 L1088.1,2044.0 L1089.1,2014.3 L1090.2,1980.1 L1091.2,1947.8 L1092.2,1933.8 L1093.3,1893.1 L1094.3,1885.8 L1095.3,1871.4 L1096.4,1851.6 L1097.4,1846.3 L1098.4,1838.6 L1099.5,1835.4 L1100.5,1836.9 L1101.5,1833.5 L1102.6,1840.0 L1103.6,1862.6 L1104.6,1864.5 L1105.6,1884.7 L1106.7,1890.9 L1107.7,1892.5 L1108.7,1902.2 L1109.8,1905.8 L1110.8,1920.6 L1111.8,1930.2 L1112.9,1942.0 L1113.9,1944.1 L1114.9,1946.1 L1116.0,1949.2 L1117.0,1940.8 L1118.0,1946.6 L1119.1,1954.2 L1120.1,1933.5 L1121.1,1949.5 L1122.2,1953.2 L1123.2,1942.5 L1124.2,1947.4 L1125.3,1966.0 L1126.3,1974.5 L1127.3,1978.9 L1128.4,1975.0 L1129.4,1993.2 L1130.4,2007.1 L1131.5,2014.1 L1132.5,2018.6 L1133.5,2047.6 L1134.6,2055.1 L1135.6,2077.7 L1136.6,2072.8 L1137.7,2098.8 L1138.7,2139.1 L1139.7,2182.2 L1140.8,2202.0 L1141.8,2241.4 L1142.8,2236.7 L1143.9,2263.5 L1144.9,2274.8 L1145.9,2279.8 L1147.0,2286.7 L1148.0,2288.4 L1149.0,2297.5 L1150.1,2311.1 L1151.1,2330.6 L1152.1,2320.8 L1153.2,2333.3 L1154.2,2325.3 L1155.2,2349.7 L1156.2,2363.8 L1157.3,2352.1 L1158.3,2330.3 L1159.3,2347.1 L1160.4,2354.8 L1161.4,2345.3 L1162.4,2350.0 L1163.5,2351.3 L1164.5,2361.8 L1165.5,2356.7 L1166.6,2356.2 L1167.6,2365.1 L1168.6,2370.3 L1169.7,2358.4 L1170.7,2350.6 L1171.7,2354.0 L1172.8,2355.6 L1173.8,2355.5 L1174.8,2340.5 L1175.9,2356.6 L1176.9,2347.6 L1177.9,2336.9 L1179.0,2353.2 L1180.0,2348.7 L1181.0,2338.6 L1182.1,2329.6 L1183.1,2339.7 L1184.1,2336.1 L1185.2,2335.6 L1186.2,2344.6 L1187.2,2319.8 L1188.3,2329.2 L1189.3,2339.1 L1190.3,2320.4 L1191.4,2330.4 L1192.4,2319.2 L1193.4,2305.1 L1194.5,2308.7 L1195.5,2286.1 L1196.5,2303.9 L1197.6,2284.0 L1198.6,2276.8 L1199.6,2263.9 L1200.7,2262.9 L1201.7,2263.0 L1202.7,2258.5 L1203.8,2254.1 L1204.8,2239.0 L1205.8,2249.6 L1206.8,2236.5 L1207.9,2239.4 L1208.9,2236.0 L1209.9,2240.5 L1211.0,2223.0 L1212.0,2246.0 L1213.0,2240.1 L1214.1,2241.7 L1215.1,2240.8 L1216.1,2243.8 L1217.2,2245.6 L1218.2,2242.5 L1219.2,2264.4 L1220.3,2253.2 L1221.3,2265.0 L1222.3,2254.4 L1223.4,2268.1 L1224.4,2268.5 L1225.4,2263.8 L1226.5,2257.3 L1227.5,2272.3 L1228.5,2283.1 L1229.6,2280.1 L1230.6,2303.1 L1231.6,2312.3 L1232.7,2298.2 L1233.7,2296.4 L1234.7,2282.8 L1235.8,2275.5 L1236.8,2303.2 L1237.8,2273.7 L1238.9,2276.2 L1239.9,2280.4 L1240.9,2280.9 L1242.0,2262.5 L1243.0,2273.0 L1244.0,2271.3 L1245.1,2259.6 L1246.1,2265.2 L1247.1,2243.6 L1248.2,2240.8 L1249.2,2228.5 L1250.2,2218.9 L1251.3,2220.1 L1252.3,2192.4 L1253.3,2201.0 L1254.4,2179.1 L1255.4,2190.9 L1256.4,2170.5 L1257.4,2172.9 L1258.5,2160.7 L1259.5,2160.0 L1260.5,2164.4 L1261.6,2153.8 L1262.6,2142.3 L1263.6,2136.4 L1264.7,2150.1 L1265.7,2155.6 L1266.7,2152.2 L1267.8,2153.9 L1268.8,2164.6 L1269.8,2174.2 L1270.9,2170.7 L1271.9,2177.9 L1272.9,2188.7 L1274.0,2211.6 L1275.0,2214.9 L1276.0,2227.9 L1277.1,2248.1 L1278.1,2241.0 L1279.1,2258.8 L1280.2,2274.6 L1281.2,2269.2 L1282.2,2282.9 L1283.3,2289.0 L1284.3,2292.7 L1285.3,2303.0 L1286.4,2325.6 L1287.4,2323.2 L1288.4,2315.7 L1289.5,2334.5 L1290.5,2330.1 L1291.5,2329.1 L1292.6,2322.0 L1293.6,2325.0 L1294.6,2330.3 L1295.7,2341.4 L1296.7,2333.3 L1297.7,2338.1 L1298.8,2345.4 L1299.8,2333.2 L1300.8,2341.9 L1301.9,2353.8 L1302.9,2336.8 L1303.9,2350.8 L1305.0,2343.8 L1306.0,2362.9 L1307.0,2349.8 L1308.0,2358.1 L1309.1,2358.5 L1310.1,2366.9 L1311.1,2332.7 L1312.2,2351.7 L1313.2,2348.4 L1314.2,2340.8 L1315.3,2351.8 L1316.3,2346.3 L1317.3,2362.9 L1318.4,2349.3 L1319.4,2354.8 L1320.4,2346.8 L1321.5,2349.8 L1322.5,2363.7 L1323.5,2367.9 L1324.6,2360.6 L1325.6,2345.2 L1326.6,2348.0 L1327.7,2348.3 L1328.7,2369.6 L1329.7,2369.6 L1330.8,2357.5 L1331.8,2355.0 L1332.8,2357.4 L1333.9,2349.0 L1334.9,2353.7 L1335.9,2362.7 L1337.0,2360.0 L1338.0,2351.0 L1339.0,2351.7 L1340.1,2353.0 L1341.1,2334.8 L1342.1,2354.7 L1343.2,2351.3 L1344.2,2361.1 L1345.2,2355.5 L1346.3,2347.8 L1347.3,2347.4 L1348.3,2353.8 L1349.4,2348.9 L1350.4,2351.9 L1351.4,2368.9 L1352.5,2370.0 L1353.5,2334.8 L1354.5,2345.1 L1355.6,2352.9 L1356.6,2367.7 L1357.6,2363.6 L1358.6,2340.5 L1359.7,2369.9 L1360.7,2355.2 L1361.7,2344.8 L1362.8,2351.1 L1363.8,2345.8 L1364.8,2353.6 L1365.9,2334.9 L1366.9,2361.4 L1367.9,2364.3 L1369.0,2350.0 L1370.0,2339.9 L1371.0,2352.9 L1372.1,2343.2 L1373.1,2357.0 L1374.1,2362.8 L1375.2,2340.1 L1376.2,2338.7 L1377.2,2339.0 L1378.3,2356.2 L1379.3,2362.5 L1380.3,2362.6 L1381.4,2354.4 L1382.4,2347.3 L1383.4,2347.9 L1384.5,2364.9 L1385.5,2350.7 L1386.5,2352.2 L1387.6,2351.6 L1388.6,2352.6 L1389.6,2354.2 L1390.7,2347.2 L1391.7,2351.3 L1392.7,2350.4 L1393.8,2358.4 L1394.8,2348.9 L1395.8,2353.5 L1396.9,2369.8 L1397.9,2348.2 L1398.9,2354.7 L1400.0,2344.3 L1401.0,2353.8 L1402.0,2353.2 L1403.1,2350.5 L1404.1,2352.4 L1405.1,2356.1 L1406.2,2367.8 L1407.2,2336.1 L1408.2,2365.8 L1409.3,2354.9 L1410.3,2346.2 L1411.3,2348.4 L1412.3,2346.7 L1413.4,2344.8 L1414.4,2340.4 L1415.4,2348.7 L1416.5,2333.7 L1417.5,2359.7 L1418.5,2348.8 L1419.6,2353.7 L1420.6,2355.2 L1421.6,2347.8 L1422.7,2337.4 L1423.7,2356.0 L1424.7,2355.8 L1425.8,2343.2 L1426.8,2344.5 L1427.8,2332.1 L1428.9,2339.9 L1429.9,2346.5 L1430.9,2351.1 L1432.0,2346.2 L1433.0,2349.3 L1434.0,2359.3 L1435.1,2347.2 L1436.1,2348.5 L1437.1,2348.7 L1438.2,2350.1 L1439.2,2331.6 L1440.2,2339.8 L1441.3,2337.4 L1442.3,2350.4 L1443.3,2353.6 L1444.4,2347.0 L1445.4,2342.1 L1446.4,2346.9 L1447.5,2345.2 L1448.5,2335.0 L1449.5,2340.3 L1450.6,2351.0 L1451.6,2345.9 L1452.6,2347.5 L1453.7,2340.0 L1454.7,2351.1 L1455.7,2342.3 L1456.8,2334.4 L1457.8,2339.6 L1458.8,2347.1 L1459.9,2344.0 L1460.9,2337.1 L1461.9,2333.4 L1462.9,2329.7 L1464.0,2337.3 L1465.0,2346.5 L1466.0,2322.5 L1467.1,2331.2 L1468.1,2329.3 L1469.1,2329.2 L1470.2,2339.5 L1471.2,2332.4 L1472.2,2326.5 L1473.3,2318.8 L1474.3,2325.5 L1475.3,2340.9 L1476.4,2324.1 L1477.4,2316.9 L1478.4,2306.7 L1479.5,2308.8 L1480.5,2295.5 L1481.5,2297.4 L1482.6,2295.2 L1483.6,2295.6 L1484.6,2311.5 L1485.7,2290.7 L1486.7,2289.9 L1487.7,2295.9 L1488.8,2283.8 L1489.8,2281.8 L1490.8,2285.4 L1491.9,2279.2 L1492.9,2276.9 L1493.9,2269.7 L1495.0,2271.5 L1496.0,2261.0 L1497.0,2277.1 L1498.1,2261.9 L1499.1,2270.4 L1500.1,2258.8 L1501.2,2248.9 L1502.2,2250.4 L1503.2,2249.3 L1504.3,2246.3 L1505.3,2233.8 L1506.3,2253.4 L1507.4,2238.6 L1508.4,2257.2 L1509.4,2250.2 L1510.5,2246.7 L1511.5,2255.7 L1512.5,2249.3 L1513.5,2247.1 L1514.6,2263.4 L1515.6,2256.6 L1516.6,2260.6 L1517.7,2274.1 L1518.7,2262.4 L1519.7,2268.7 L1520.8,2254.1 L1521.8,2272.9 L1522.8,2255.0 L1523.9,2274.2 L1524.9,2257.1 L1525.9,2270.2 L1527.0,2273.2 L1528.0,2272.9 L1529.0,2274.8 L1530.1,2273.6 L1531.1,2274.6 L1532.1,2295.4 L1533.2,2307.5 L1534.2,2318.5 L1535.2,2310.2 L1536.3,2305.0 L1537.3,2311.2 L1538.3,2315.6 L1539.4,2321.6 L1540.4,2326.0 L1541.4,2325.0 L1542.5,2321.2 L1543.5,2340.7 L1544.5,2321.6 L1545.6,2341.1 L1546.6,2331.5 L1547.6,2336.5 L1548.7,2335.1 L1549.7,2341.4 L1550.7,2342.8 L1551.8,2335.5 L1552.8,2343.0 L1553.8,2317.6 L1554.9,2338.1 L1555.9,2340.5 L1556.9,2339.9 L1558.0,2344.5 L1559.0,2352.5 L1560.0,2338.3 L1561.1,2333.8 L1562.1,2349.2 L1563.1,2336.8 L1564.1,2347.1 L1565.2,2337.6 L1566.2,2334.4 L1567.2,2333.5 L1568.3,2334.1 L1569.3,2343.7 L1570.3,2330.6 L1571.4,2341.8 L1572.4,2335.2 L1573.4,2332.3 L1574.5,2340.8 L1575.5,2349.0 L1576.5,2333.2 L1577.6,2347.6 L1578.6,2345.7 L1579.6,2347.4 L1580.7,2331.1 L1581.7,2339.4 L1582.7,2354.5 L1583.8,2331.8 L1584.8,2321.0 L1585.8,2322.7 L1586.9,2342.2 L1587.9,2336.7 L1588.9,2332.9 L1590.0,2329.5 L1591.0,2336.5 L1592.0,2345.6 L1593.1,2330.1 L1594.1,2331.0 L1595.1,2346.9 L1596.2,2338.7 L1597.2,2333.1 L1598.2,2335.1 L1599.3,2330.5 L1600.3,2328.0 L1601.3,2329.8 L1602.4,2334.9 L1603.4,2344.8 L1604.4,2328.2 L1605.5,2321.4 L1606.5,2316.3 L1607.5,2332.4 L1608.6,2332.0 L1609.6,2319.2 L1610.6,2318.7 L1611.7,2327.0 L1612.7,2323.2 L1613.7,2334.5 L1614.7,2322.6 L1615.8,2333.1 L1616.8,2326.6 L1617.8,2325.3 L1618.9,2326.9 L1619.9,2337.9 L1620.9,2327.2 L1622.0,2316.4 L1623.0,2318.0 L1624.0,2318.6 L1625.1,2309.0 L1626.1,2303.3 L1627.1,2297.8 L1628.2,2306.3 L1629.2,2294.9 L1630.2,2292.7 L1631.3,2292.0 L1632.3,2292.0 L1633.3,2276.9 L1634.4,2278.6 L1635.4,2252.3 L1636.4,2263.9 L1637.5,2260.5 L1638.5,2257.5 L1639.5,2236.6 L1640.6,2253.6 L1641.6,2244.3 L1642.6,2245.0 L1643.7,2236.3 L1644.7,2231.8 L1645.7,2220.0 L1646.8,2234.8 L1647.8,2222.2 L1648.8,2208.8 L1649.9,2223.1 L1650.9,2221.5 L1651.9,2229.9 L1653.0,2242.9 L1654.0,2235.7 L1655.0,2233.0 L1656.1,2251.4 L1657.1,2267.3 L1658.1,2257.8 L1659.2,2265.6 L1660.2,2265.3 L1661.2,2272.5 L1662.3,2287.9 L1663.3,2288.7 L1664.3,2311.2 L1665.3,2293.4 L1666.4,2305.6 L1667.4,2303.2 L1668.4,2307.9 L1669.5,2322.8 L1670.5,2325.3 L1671.5,2334.1 L1672.6,2345.3 L1673.6,2332.4 L1674.6,2332.2 L1675.7,2344.2 L1676.7,2331.4 L1677.7,2338.2 L1678.8,2336.9 L1679.8,2348.5 L1680.8,2358.1 L1681.9,2338.4 L1682.9,2340.9 L1683.9,2347.8 L1685.0,2351.1 L1686.0,2350.5 L1687.0,2349.7 L1688.1,2353.0 L1689.1,2365.4 L1690.1,2342.7 L1691.2,2361.7 L1692.2,2352.2 L1693.2,2352.2 L1694.3,2347.6 L1695.3,2363.2 L1696.3,2340.0 L1697.4,2344.7 L1698.4,2343.9 L1699.4,2339.9 L1700.5,2357.1 L1701.5,2367.0 L1702.5,2347.9 L1703.6,2339.9 L1704.6,2341.2 L1705.6,2355.3 L1706.7,2351.7 L1707.7,2348.6 L1708.7,2366.0 L1709.8,2356.6 L1710.8,2356.4 L1711.8,2338.1 L1712.9,2356.5 L1713.9,2338.2 L1714.9,2351.1 L1716.0,2365.1 L1717.0,2334.7 L1718.0,2359.2 L1719.0,2346.1 L1720.1,2337.1 L1721.1,2355.6 L1722.1,2361.3 L1723.2,2342.5 L1724.2,2350.5 L1725.2,2361.1 L1726.3,2359.9 L1727.3,2354.1 L1728.3,2342.9 L1729.4,2353.1 L1730.4,2345.2 L1731.4,2336.9 L1732.5,2340.0 L1733.5,2338.5 L1734.5,2340.0 L1735.6,2363.3 L1736.6,2339.9 L1737.6,2347.1 L1738.7,2350.6 L1739.7,2358.3 L1740.7,2362.3 L1741.8,2358.2 L1742.8,2349.1 L1743.8,2358.4 L1744.9,2355.2 L1745.9,2353.3 L1746.9,2342.3 L1748.0,2349.7 L1749.0,2347.8 L1750.0,2335.0 L1751.1,2347.6 L1752.1,2339.2 L1753.1,2351.7 L1754.2,2339.3 L1755.2,2339.9 L1756.2,2338.2 L1757.3,2342.2 L1758.3,2345.4 L1759.3,2338.2 L1760.4,2338.2 L1761.4,2324.7 L1762.4,2324.3 L1763.5,2339.8 L1764.5,2323.7 L1765.5,2331.1 L1766.6,2322.1 L1767.6,2327.9 L1768.6,2333.8 L1769.6,2312.2 L1770.7,2314.6 L1771.7,2325.7 L1772.7,2328.6 L1773.8,2315.7 L1774.8,2318.4 L1775.8,2309.7 L1776.9,2299.8 L1777.9,2290.9 L1778.9,2302.4 L1780.0,2286.2 L1781.0,2284.5 L1782.0,2293.2 L1783.1,2299.0 L1784.1,2276.4 L1785.1,2274.9 L1786.2,2261.4 L1787.2,2262.9 L1788.2,2265.5 L1789.3,2257.1 L1790.3,2276.3 L1791.3,2267.0 L1792.4,2271.1 L1793.4,2257.6 L1794.4,2268.4 L1795.5,2290.0 L1796.5,2267.9 L1797.5,2288.2 L1798.6,2279.0 L1799.6,2292.1 L1800.6,2290.1 L1801.7,2290.6 L1802.7,2297.1 L1803.7,2308.8 L1804.8,2293.3 L1805.8,2303.8 L1806.8,2309.8 L1807.9,2307.1 L1808.9,2319.7 L1809.9,2303.6 L1811.0,2319.3 L1812.0,2320.9 L1813.0,2323.4 L1814.1,2335.6 L1815.1,2339.6 L1816.1,2330.2 L1817.2,2330.4 L1818.2,2323.6 L1819.2,2331.8 L1820.2,2345.1 L1821.3,2333.1 L1822.3,2331.6 L1823.3,2331.0 L1824.4,2337.2 L1825.4,2350.3 L1826.4,2332.0 L1827.5,2347.8 L1828.5,2337.9 L1829.5,2355.7 L1830.6,2337.6 L1831.6,2350.5 L1832.6,2336.0 L1833.7,2331.1 L1834.7,2336.3 L1835.7,2355.6 L1836.8,2354.2 L1837.8,2354.1 L1838.8,2342.2 L1839.9,2345.2 L1840.9,2347.2 L1841.9,2346.4 L1843.0,2344.6 L1844.0,2344.5 L1845.0,2336.5 L1846.1,2350.9 L1847.1,2349.2 L1848.1,2366.2 L1849.2,2362.2 L1850.2,2357.5 L1851.2,2361.8 L1852.3,2350.7 L1853.3,2344.3 L1854.3,2356.5 L1855.4,2357.1 L1856.4,2357.5 L1857.4,2352.5 L1858.5,2358.1 L1859.5,2350.3"/>
</g>
<g stroke="#000" fill="none" stroke-width="7">
<line x1="310.5" y1="164" x2="310.5" y2="2462"/>
<line x1="307" y1="931.5" x2="1860" y2="931.5"/>
<line x1="439.6" y1="931.5" x2="439.6" y2="916.0"/>
<line x1="568.7" y1="931.5" x2="568.7" y2="902.0"/>
<line x1="697.7" y1="931.5" x2="697.7" y2="916.0"/>
<line x1="826.8" y1="931.5" x2="826.8" y2="902.0"/>
<line x1="955.9" y1="931.5" x2="955.9" y2="916.0"/>
<line x1="1085.0" y1="931.5" x2="1085.0" y2="902.0"/>
<line x1="1214.1" y1="931.5" x2="1214.1" y2="916.0"/>
<line x1="1343.2" y1="931.5" x2="1343.2" y2="902.0"/>
<line x1="1472.2" y1="931.5" x2="1472.2" y2="916.0"/>
<line x1="1601.3" y1="931.5" x2="1601.3" y2="902.0"/>
<line x1="1730.4" y1="931.5" x2="1730.4" y2="916.0"/>
<line x1="1859.5" y1="931.5" x2="1859.5" y2="902.0"/>
<line x1="314" y1="868.5" x2="341" y2="868.5"/>
<line x1="314" y1="708.2" x2="326" y2="708.2"/>
<line x1="314" y1="548.0" x2="341" y2="548.0"/>
<line x1="314" y1="387.8" x2="326" y2="387.8"/>
<line x1="314" y1="227.5" x2="341" y2="227.5"/>
<line x1="307" y1="1701.5" x2="1860" y2="1701.5"/>
<line x1="439.6" y1="1701.5" x2="439.6" y2="1686.0"/>
<line x1="568.7" y1="1701.5" x2="568.7" y2="1672.0"/>
<line x1="697.7" y1="1701.5" x2="697.7" y2="1686.0"/>
<line x1="826.8" y1="1701.5" x2="826.8" y2="1672.0"/>
<line x1="955.9" y1="1701.5" x2="955.9" y2="1686.0"/>
<line x1="1085.0" y1="1701.5" x2="1085.0" y2="1672.0"/>
<line x1="1214.1" y1="1701.5" x2="1214.1" y2="1686.0"/>
<line x1="1343.2" y1="1701.5" x2="1343.2" y2="1672.0"/>
<line x1="1472.2" y1="1701.5" x2="1472.2" y2="1686.0"/>
<line x1="1601.3" y1="1701.5" x2="1601.3" y2="1672.0"/>
<line x1="1730.4" y1="1701.5" x2="1730.4" y2="1686.0"/>
<line x1="1859.5" y1="1701.5" x2="1859.5" y2="1672.0"/>
<line x1="314" y1="1638.5" x2="341" y2="1638.5"/>
<line x1="314" y1="1478.2" x2="326" y2="1478.2"/>
<line x1="314" y1="1318.0" x2="341" y2="1318.0"/>
<line x1="314" y1="1157.8" x2="326" y2="1157.8"/>
<line x1="314" y1="997.5" x2="341" y2="997.5"/>
<line x1="307" y1="2458.5" x2="1860" y2="2458.5"/>
<line x1="439.6" y1="2458.5" x2="439.6" y2="2443.0"/>
<line x1="568.7" y1="2458.5" x2="568.7" y2="2429.0"/>
<line x1="697.7" y1="2458.5" x2="697.7" y2="2443.0"/>
<line x1="826.8" y1="2458.5" x2="826.8" y2="2429.0"/>
<line x1="955.9" y1="2458.5" x2="955.9" y2="2443.0"/>
<line x1="1085.0" y1="2458.5" x2="1085.0" y2="2429.0"/>
<line x1="1214.1" y1="2458.5" x2="1214.1" y2="2443.0"/>
<line x1="1343.2" y1="2458.5" x2="1343.2" y2="2429.0"/>
<line x1="1472.2" y1="2458.5" x2="1472.2" y2="2443.0"/>
<line x1="1601.3" y1="2458.5" x2="1601.3" y2="2429.0"/>
<line x1="1730.4" y1="2458.5" x2="1730.4" y2="2443.0"/>
<line x1="1859.5" y1="2458.5" x2="1859.5" y2="2429.0"/>
<line x1="314" y1="2395.4" x2="341" y2="2395.4"/>
<line x1="314" y1="2235.2" x2="326" y2="2235.2"/>
<line x1="314" y1="2074.9" x2="341" y2="2074.9"/>
<line x1="314" y1="1914.7" x2="326" y2="1914.7"/>
<line x1="314" y1="1754.4" x2="341" y2="1754.4"/>
</g>
<g font-size="70" fill="#000">
<text x="278.5" y="887.0" text-anchor="end">0.0</text>
<text x="278.5" y="566.5" text-anchor="end">0.5</text>
<text x="278.5" y="246.0" text-anchor="end">1.0</text>
<text x="278.5" y="1657.0" text-anchor="end">0.0</text>
<text x="278.5" y="1336.5" text-anchor="end">0.5</text>
<text x="278.5" y="1016.0" text-anchor="end">1.0</text>
<text x="278.5" y="2413.9" text-anchor="end">0.0</text>
<text x="278.5" y="2093.4" text-anchor="end">0.5</text>
<text x="278.5" y="1772.9" text-anchor="end">1.0</text>
<text x="312.8" y="2532.3" text-anchor="middle">20</text>
<text x="562.5" y="2532.3" text-anchor="middle">25</text>
<text x="832" y="2532.3" text-anchor="middle">30</text>
<text x="1082.5" y="2532.3" text-anchor="middle">35</text>
<text x="1351" y="2532.3" text-anchor="middle">40</text>
<text x="1602" y="2532.3" text-anchor="middle">45</text>
<text x="1852" y="2532.3" text-anchor="middle">50</text>
</g>
<text x="1083" y="2670.9" font-size="84" text-anchor="middle">2 theta (°)</text>
<text transform="translate(103,1265) rotate(-90)" font-size="86" text-anchor="middle">Normalized Intensity (a. u.)</text>
<text x="1803" y="264" font-size="84" text-anchor="middle">(a)</text>
<text x="1800.5" y="1036" font-size="84" text-anchor="middle">(b)</text>
<text x="1797" y="1808" font-size="84" text-anchor="middle">(c)</text>
<g font-size="67">
<text transform="translate(950.4,129.9) rotate(-90)" text-anchor="middle" fill="#000">(010)</text>
<text transform="translate(1077.0,702) rotate(-90)" text-anchor="middle" fill="#000">(002)</text>
<text transform="translate(1201.3,544) rotate(-90)" text-anchor="middle" fill="#000">(011)</text>
<text transform="translate(1780.0,733.5) rotate(-90)" text-anchor="middle" fill="#000">(012)</text>
<text transform="translate(971.3,1033) rotate(-90)" text-anchor="middle" fill="#000">(010)</text>
<text transform="translate(1077.3,1257.3) rotate(-90)" text-anchor="middle" fill="#000">(002)</text>
<text transform="translate(1258.2,1023.3) rotate(-90)" text-anchor="middle" fill="#000">(011)</text>
<text transform="translate(922.6,1270) rotate(-90)" text-anchor="middle" fill="#f00">(002)</text>
<text transform="translate(847.1,1310.8) rotate(-90)" text-anchor="middle" fill="#f00">(-110)</text>
<text transform="translate(1025.6,1454.9) rotate(-90)" text-anchor="middle" fill="#f00">(-1-11)</text>
<text transform="translate(1294.1,1437.8) rotate(-90)" text-anchor="middle" fill="#f00">(202)</text>
<text transform="translate(1528.3,1481.7) rotate(-90)" text-anchor="middle" fill="#f00">(600)</text>
<text transform="translate(1662.3,1475.9) rotate(-90)" text-anchor="middle" fill="#f00">(1-12)</text>
<text transform="translate(1783.8,1432.8) rotate(-90)" text-anchor="middle" fill="#000">(012)</text>
<text transform="translate(1836.8,1471.6) rotate(-90)" text-anchor="middle" fill="#f00">(-602)</text>
<text transform="translate(847.1,1790.6) rotate(-90)" text-anchor="middle" fill="#f00">(-110)</text>
<text transform="translate(997.3,1789) rotate(-90)" text-anchor="middle" fill="#f00">(002)</text>
<text transform="translate(1090.2,1797.3) rotate(-90)" text-anchor="middle" fill="#f00">(1-11)</text>
<text transform="translate(1020.2,2116.2) rotate(-90)" text-anchor="middle" fill="#f00">(-1-11)</text>
<text transform="translate(1289.2,2035.9) rotate(-90)" text-anchor="middle" fill="#f00">(202)</text>
<text transform="translate(1524.1,2145.9) rotate(-90)" text-anchor="middle" fill="#f00">(600)</text>
<text transform="translate(1679.3,2117.8) rotate(-90)" text-anchor="middle" fill="#f00">(1-12)</text>
<text transform="translate(1816.3,2143.7) rotate(-90)" text-anchor="middle" fill="#f00">(-602)</text>
</g>
</svg></body></html>
